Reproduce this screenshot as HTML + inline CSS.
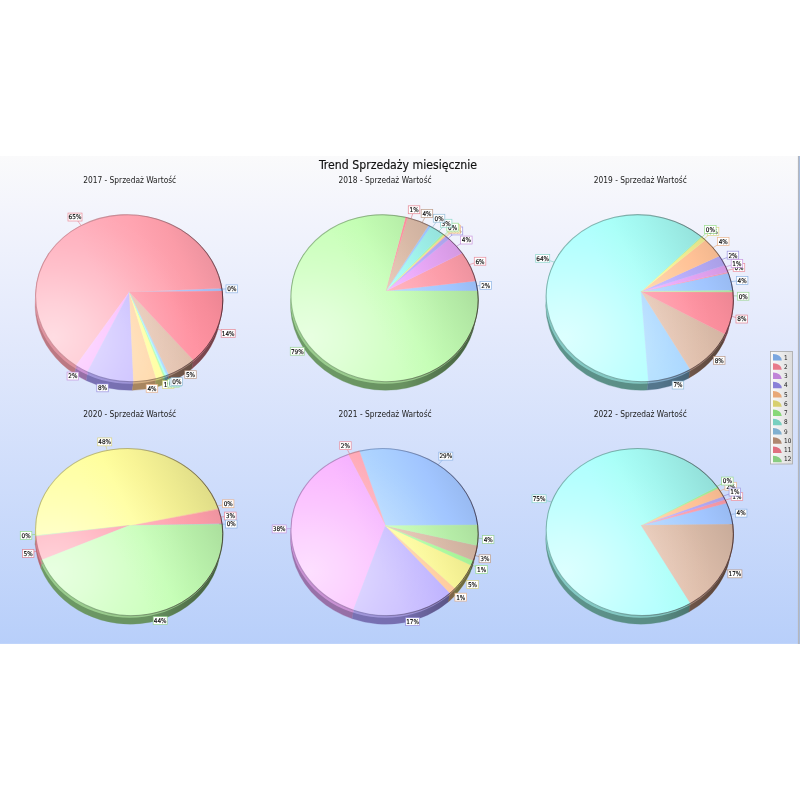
<!DOCTYPE html>
<html lang="pl"><head><meta charset="utf-8"><title>Trend Sprzedaży miesięcznie</title>
<style>
html,body{margin:0;padding:0;background:#fff;width:800px;height:800px;overflow:hidden}
svg{position:absolute;left:0;top:0;display:block}
text{font-family:"DejaVu Sans Condensed","Liberation Sans",sans-serif;fill:#1a1a1a}
.t{font-size:12.2px;fill:#111;stroke:#111;stroke-width:0.15px}
.s{font-size:8.3px;fill:#222}
.l{font-size:6.4px;fill:#000;stroke:#000;stroke-width:0.12px}
.g{font-size:6.4px;fill:#222}
</style></head><body>
<svg width="800" height="800" viewBox="0 0 800 800">
<defs>
<linearGradient id="bg" x1="0" y1="0" x2="0" y2="1"><stop offset="0" stop-color="#fafafb"/><stop offset="0.1" stop-color="#f4f5fc"/><stop offset="0.35" stop-color="#e4eafc"/><stop offset="1" stop-color="#b8cffa"/></linearGradient>
<radialGradient id="sh" cx="0.12" cy="0.78" r="0.8"><stop offset="0" stop-color="#fff" stop-opacity="0.58"/><stop offset="0.25" stop-color="#fff" stop-opacity="0.43"/><stop offset="0.5" stop-color="#fff" stop-opacity="0.24"/><stop offset="0.7" stop-color="#fff" stop-opacity="0.11"/><stop offset="0.9" stop-color="#fff" stop-opacity="0.02"/><stop offset="1" stop-color="#fff" stop-opacity="0"/></radialGradient>
<linearGradient id="rim" x1="0" y1="0.5" x2="1" y2="0.5"><stop offset="0" stop-color="#301820" stop-opacity="0.0"/><stop offset="0.5" stop-color="#301820" stop-opacity="0.1"/><stop offset="0.8" stop-color="#301820" stop-opacity="0.42"/><stop offset="1" stop-color="#301820" stop-opacity="0.66"/></linearGradient>
<linearGradient id="wallsh" x1="0" y1="0" x2="1" y2="0"><stop offset="0" stop-color="#000" stop-opacity="0"/><stop offset="0.6" stop-color="#000" stop-opacity="0.05"/><stop offset="1" stop-color="#000" stop-opacity="0.42"/></linearGradient>
<linearGradient id="bev" x1="0" y1="0" x2="1" y2="0"><stop offset="0" stop-color="#fff" stop-opacity="0.4"/><stop offset="0.5" stop-color="#fff" stop-opacity="0.3"/><stop offset="0.85" stop-color="#fff" stop-opacity="0.2"/><stop offset="1" stop-color="#fff" stop-opacity="0"/></linearGradient>
<linearGradient id="leg" x1="0" y1="0" x2="1" y2="0"><stop offset="0" stop-color="#fafafa"/><stop offset="1" stop-color="#dcdcdc"/></linearGradient>
</defs>
<rect x="0" y="156" width="800" height="487.9" fill="url(#bg)"/>
<rect x="797.9" y="156" width="1.1" height="488" fill="#b6b7ba"/>
<rect x="798.9" y="156" width="1.1" height="488" fill="#a8bcdc"/>

<text class="t" x="398" y="169.2" text-anchor="middle">Trend Sprzedaży miesięcznie</text>
<g>
<text class="s" x="129.7" y="183.3" text-anchor="middle">2017 - Sprzedaż Wartość</text>
<defs><linearGradient id="g0_1" gradientUnits="userSpaceOnUse" x1="47.52" y1="339.82" x2="210.88" y2="256.58"><stop offset="0" stop-color="#b4dcff"/><stop offset="0.4" stop-color="#b4dcff"/><stop offset="0.55" stop-color="#b0d6ff"/><stop offset="0.7" stop-color="#a9cfff"/><stop offset="0.85" stop-color="#a1c5ff"/><stop offset="1" stop-color="#98baf1"/></linearGradient><linearGradient id="g0_2" gradientUnits="userSpaceOnUse" x1="47.52" y1="339.82" x2="210.88" y2="256.58"><stop offset="0" stop-color="#ffaebc"/><stop offset="0.4" stop-color="#ffaebc"/><stop offset="0.55" stop-color="#ffaab7"/><stop offset="0.7" stop-color="#ffa4b1"/><stop offset="0.85" stop-color="#fb9ca8"/><stop offset="1" stop-color="#ed939f"/></linearGradient><linearGradient id="g0_3" gradientUnits="userSpaceOnUse" x1="47.52" y1="339.82" x2="210.88" y2="256.58"><stop offset="0" stop-color="#fab4ff"/><stop offset="0.4" stop-color="#fab4ff"/><stop offset="0.55" stop-color="#f4b0ff"/><stop offset="0.7" stop-color="#eba9fa"/><stop offset="0.85" stop-color="#e0a1ee"/><stop offset="1" stop-color="#d398e1"/></linearGradient><linearGradient id="g0_4" gradientUnits="userSpaceOnUse" x1="47.52" y1="339.82" x2="210.88" y2="256.58"><stop offset="0" stop-color="#c8bcff"/><stop offset="0.4" stop-color="#c8bcff"/><stop offset="0.55" stop-color="#c3b7ff"/><stop offset="0.7" stop-color="#bcb1ff"/><stop offset="0.85" stop-color="#b3a8f3"/><stop offset="1" stop-color="#a99fe6"/></linearGradient><linearGradient id="g0_5" gradientUnits="userSpaceOnUse" x1="47.52" y1="339.82" x2="210.88" y2="256.58"><stop offset="0" stop-color="#ffd8a8"/><stop offset="0.4" stop-color="#ffd8a8"/><stop offset="0.55" stop-color="#ffd3a4"/><stop offset="0.7" stop-color="#ffcb9e"/><stop offset="0.85" stop-color="#ffc196"/><stop offset="1" stop-color="#f1b78e"/></linearGradient><linearGradient id="g0_6" gradientUnits="userSpaceOnUse" x1="47.52" y1="339.82" x2="210.88" y2="256.58"><stop offset="0" stop-color="#ffffa0"/><stop offset="0.4" stop-color="#ffffa0"/><stop offset="0.55" stop-color="#fffe9c"/><stop offset="0.7" stop-color="#f8f496"/><stop offset="0.85" stop-color="#ece98f"/><stop offset="1" stop-color="#dfdc87"/></linearGradient><linearGradient id="g0_7" gradientUnits="userSpaceOnUse" x1="47.52" y1="339.82" x2="210.88" y2="256.58"><stop offset="0" stop-color="#b8ffa8"/><stop offset="0.4" stop-color="#b8ffa8"/><stop offset="0.55" stop-color="#b3ffa4"/><stop offset="0.7" stop-color="#adfc9e"/><stop offset="0.85" stop-color="#a5f096"/><stop offset="1" stop-color="#9be28e"/></linearGradient><linearGradient id="g0_8" gradientUnits="userSpaceOnUse" x1="47.52" y1="339.82" x2="210.88" y2="256.58"><stop offset="0" stop-color="#acfffe"/><stop offset="0.4" stop-color="#acfffe"/><stop offset="0.55" stop-color="#a8fff8"/><stop offset="0.7" stop-color="#a2f6ef"/><stop offset="0.85" stop-color="#9aeae3"/><stop offset="1" stop-color="#91ddd7"/></linearGradient><linearGradient id="g0_9" gradientUnits="userSpaceOnUse" x1="47.52" y1="339.82" x2="210.88" y2="256.58"><stop offset="0" stop-color="#acdcff"/><stop offset="0.4" stop-color="#acdcff"/><stop offset="0.55" stop-color="#a8d6ff"/><stop offset="0.7" stop-color="#a2cfff"/><stop offset="0.85" stop-color="#9ac5ff"/><stop offset="1" stop-color="#91baf1"/></linearGradient><linearGradient id="g0_10" gradientUnits="userSpaceOnUse" x1="47.52" y1="339.82" x2="210.88" y2="256.58"><stop offset="0" stop-color="#eac8b4"/><stop offset="0.4" stop-color="#eac8b4"/><stop offset="0.55" stop-color="#e4c3b0"/><stop offset="0.7" stop-color="#dcbca9"/><stop offset="0.85" stop-color="#d1b3a1"/><stop offset="1" stop-color="#c6a998"/></linearGradient><linearGradient id="g0_11" gradientUnits="userSpaceOnUse" x1="47.52" y1="339.82" x2="210.88" y2="256.58"><stop offset="0" stop-color="#ff9cac"/><stop offset="0.4" stop-color="#ff9cac"/><stop offset="0.55" stop-color="#ff98a8"/><stop offset="0.7" stop-color="#ff93a2"/><stop offset="0.85" stop-color="#f78c9a"/><stop offset="1" stop-color="#e98491"/></linearGradient></defs>
<line x1="81.1" y1="225.5" x2="75.0" y2="217.1" stroke="#e87a8a" stroke-width="0.7" stroke-opacity="0.85"/>
<line x1="222.0" y1="289.1" x2="231.8" y2="288.8" stroke="#7ba7e0" stroke-width="0.7" stroke-opacity="0.85"/>
<line x1="217.1" y1="328.7" x2="228.2" y2="333.4" stroke="#e07080" stroke-width="0.7" stroke-opacity="0.85"/>
<line x1="184.6" y1="366.7" x2="190.5" y2="374.6" stroke="#b08870" stroke-width="0.7" stroke-opacity="0.85"/>
<line x1="164.7" y1="376.2" x2="168.2" y2="384.7" stroke="#d8d070" stroke-width="0.7" stroke-opacity="0.85"/>
<line x1="169.3" y1="374.5" x2="173.5" y2="383.2" stroke="#88d878" stroke-width="0.7" stroke-opacity="0.85"/>
<line x1="171.1" y1="373.8" x2="175.5" y2="382.4" stroke="#78d0c0" stroke-width="0.7" stroke-opacity="0.85"/>
<line x1="172.3" y1="373.2" x2="176.8" y2="381.7" stroke="#80b0d0" stroke-width="0.7" stroke-opacity="0.85"/>
<line x1="150.0" y1="380.0" x2="152.0" y2="388.4" stroke="#e8a878" stroke-width="0.7" stroke-opacity="0.85"/>
<line x1="105.2" y1="378.4" x2="102.5" y2="387.8" stroke="#8a80d8" stroke-width="0.7" stroke-opacity="0.85"/>
<line x1="78.6" y1="367.4" x2="72.8" y2="376.0" stroke="#c084d8" stroke-width="0.7" stroke-opacity="0.85"/>
<path d="M222.23 291.04 A93.7 83.4 6 0 0 221.84 288.34 L219.96 297.36 A93 83 6 0 1 220.34 300.05 Z" fill="#6c8cc0" stroke="#6c8cc0" stroke-width="0.3"/>
<path d="M221.84 288.34 A93.7 83.4 6 0 0 220.8 283.05 L218.92 292.09 A93 83 6 0 1 219.96 297.36 Z" fill="#bd7a84" stroke="#bd7a84" stroke-width="0.3"/>
<path d="M49.08 253.3 A93.7 83.4 6 0 0 75.89 365.67 L75.07 374.36 A93 83 6 0 1 48.49 262.54 Z" fill="#bd7a84" stroke="#bd7a84" stroke-width="0.3"/>
<path d="M75.89 365.67 A93.7 83.4 6 0 0 87.46 372.03 L86.55 380.69 A93 83 6 0 1 75.07 374.36 Z" fill="#9a72aa" stroke="#9a72aa" stroke-width="0.3"/>
<path d="M87.46 372.03 A93.7 83.4 6 0 0 133.52 381.7 L132.27 390.3 A93 83 6 0 1 86.55 380.69 Z" fill="#7c74b8" stroke="#7c74b8" stroke-width="0.3"/>
<path d="M133.52 381.7 A93.7 83.4 6 0 0 156.24 378.72 L154.82 387.32 A93 83 6 0 1 132.27 390.3 Z" fill="#b08c64" stroke="#b08c64" stroke-width="0.3"/>
<path d="M156.24 378.72 A93.7 83.4 6 0 0 163.71 376.56 L162.23 385.17 A93 83 6 0 1 154.82 387.32 Z" fill="#a8a460" stroke="#a8a460" stroke-width="0.3"/>
<path d="M163.71 376.56 A93.7 83.4 6 0 0 165.22 376.04 L163.73 384.66 A93 83 6 0 1 162.23 385.17 Z" fill="#70a868" stroke="#70a868" stroke-width="0.3"/>
<path d="M165.22 376.04 A93.7 83.4 6 0 0 167.05 375.38 L165.55 384 A93 83 6 0 1 163.73 384.66 Z" fill="#5e948c" stroke="#5e948c" stroke-width="0.3"/>
<path d="M167.05 375.38 A93.7 83.4 6 0 0 168.96 374.65 L167.45 383.27 A93 83 6 0 1 165.55 384 Z" fill="#587c94" stroke="#587c94" stroke-width="0.3"/>
<path d="M168.96 374.65 A93.7 83.4 6 0 0 193.45 360.3 L191.76 368.99 A93 83 6 0 1 167.45 383.27 Z" fill="#8c6c5c" stroke="#8c6c5c" stroke-width="0.3"/>
<path d="M193.45 360.3 A93.7 83.4 6 0 0 222.23 291.04 L220.34 300.05 A93 83 6 0 1 191.76 368.99 Z" fill="#b46874" stroke="#b46874" stroke-width="0.3"/>
<path d="M49.08 253.3 A93.7 83.4 6 1 0 220.8 283.05 L218.92 292.09 A93 83 6 1 1 48.49 262.54 Z" fill="url(#wallsh)"/>
<clipPath id="bc0"><polygon points="41.1,268.2 38.9,274.3 37.3,280.5 36.2,286.8 35.7,293.2 35.7,299.6 36.3,306.0 37.4,312.4 39.1,318.7 41.3,324.9 44.0,330.9 47.2,336.7 50.9,342.3 55.1,347.6 59.7,352.6 64.7,357.3 70.1,361.7 75.9,365.7 81.9,369.2 88.3,372.4 94.9,375.1 101.7,377.4 108.6,379.2 115.7,380.5 122.9,381.4 130.1,381.7 137.3,381.6 144.4,380.9 151.5,379.8 158.4,378.2 165.1,376.1 171.7,373.5 178.0,370.5 183.9,367.1 189.6,363.3 194.9,359.1 199.9,354.5 204.4,349.6 208.4,344.4 212.0,338.9 215.1,333.1 215.0,334.4 211.9,340.2 208.3,345.7 204.2,350.9 199.7,355.9 194.7,360.5 189.4,364.8 183.7,368.6 177.7,372.1 171.4,375.2 164.9,377.8 158.1,379.9 151.2,381.6 144.1,382.8 137.0,383.6 129.8,383.8 122.6,383.5 115.4,382.8 108.3,381.6 101.4,379.9 94.5,377.7 87.9,375.1 81.6,372.0 75.5,368.5 69.7,364.7 64.3,360.4 59.3,355.8 54.6,350.9 50.5,345.7 46.7,340.2 43.5,334.5 40.7,328.7 38.5,322.6 36.8,316.5 35.7,310.3 35.1,304.0 35.1,297.7 35.6,291.4 36.7,285.1 38.3,278.9 40.5,272.8"/></clipPath>
<g clip-path="url(#bc0)"><g transform="translate(-0.7,5.2)" opacity="0.5">
<path d="M129.4 291.9 L222.23 291.04 A93.7 83.4 6 0 0 221.84 288.34 Z" fill="url(#g0_1)" stroke="url(#g0_1)" stroke-width="0.35"/>
<path d="M129.4 291.9 L221.84 288.34 A93.7 83.4 6 1 0 75.89 365.67 Z" fill="url(#g0_2)" stroke="url(#g0_2)" stroke-width="0.35"/>
<path d="M129.4 291.9 L75.89 365.67 A93.7 83.4 6 0 0 87.46 372.03 Z" fill="url(#g0_3)" stroke="url(#g0_3)" stroke-width="0.35"/>
<path d="M129.4 291.9 L87.46 372.03 A93.7 83.4 6 0 0 133.52 381.7 Z" fill="url(#g0_4)" stroke="url(#g0_4)" stroke-width="0.35"/>
<path d="M129.4 291.9 L133.52 381.7 A93.7 83.4 6 0 0 156.24 378.72 Z" fill="url(#g0_5)" stroke="url(#g0_5)" stroke-width="0.35"/>
<path d="M129.4 291.9 L156.24 378.72 A93.7 83.4 6 0 0 163.71 376.56 Z" fill="url(#g0_6)" stroke="url(#g0_6)" stroke-width="0.35"/>
<path d="M129.4 291.9 L163.71 376.56 A93.7 83.4 6 0 0 165.22 376.04 Z" fill="url(#g0_7)" stroke="url(#g0_7)" stroke-width="0.35"/>
<path d="M129.4 291.9 L165.22 376.04 A93.7 83.4 6 0 0 167.05 375.38 Z" fill="url(#g0_8)" stroke="url(#g0_8)" stroke-width="0.35"/>
<path d="M129.4 291.9 L167.05 375.38 A93.7 83.4 6 0 0 168.96 374.65 Z" fill="url(#g0_9)" stroke="url(#g0_9)" stroke-width="0.35"/>
<path d="M129.4 291.9 L168.96 374.65 A93.7 83.4 6 0 0 193.45 360.3 Z" fill="url(#g0_10)" stroke="url(#g0_10)" stroke-width="0.35"/>
<path d="M129.4 291.9 L193.45 360.3 A93.7 83.4 6 0 0 222.23 291.04 Z" fill="url(#g0_11)" stroke="url(#g0_11)" stroke-width="0.35"/>
</g></g>
<path d="M129.4 291.9 L222.23 291.04 A93.7 83.4 6 0 0 221.84 288.34 Z" fill="url(#g0_1)" stroke="url(#g0_1)" stroke-width="0.35"/>
<path d="M129.4 291.9 L221.84 288.34 A93.7 83.4 6 1 0 75.89 365.67 Z" fill="url(#g0_2)" stroke="url(#g0_2)" stroke-width="0.35"/>
<path d="M129.4 291.9 L75.89 365.67 A93.7 83.4 6 0 0 87.46 372.03 Z" fill="url(#g0_3)" stroke="url(#g0_3)" stroke-width="0.35"/>
<path d="M129.4 291.9 L87.46 372.03 A93.7 83.4 6 0 0 133.52 381.7 Z" fill="url(#g0_4)" stroke="url(#g0_4)" stroke-width="0.35"/>
<path d="M129.4 291.9 L133.52 381.7 A93.7 83.4 6 0 0 156.24 378.72 Z" fill="url(#g0_5)" stroke="url(#g0_5)" stroke-width="0.35"/>
<path d="M129.4 291.9 L156.24 378.72 A93.7 83.4 6 0 0 163.71 376.56 Z" fill="url(#g0_6)" stroke="url(#g0_6)" stroke-width="0.35"/>
<path d="M129.4 291.9 L163.71 376.56 A93.7 83.4 6 0 0 165.22 376.04 Z" fill="url(#g0_7)" stroke="url(#g0_7)" stroke-width="0.35"/>
<path d="M129.4 291.9 L165.22 376.04 A93.7 83.4 6 0 0 167.05 375.38 Z" fill="url(#g0_8)" stroke="url(#g0_8)" stroke-width="0.35"/>
<path d="M129.4 291.9 L167.05 375.38 A93.7 83.4 6 0 0 168.96 374.65 Z" fill="url(#g0_9)" stroke="url(#g0_9)" stroke-width="0.35"/>
<path d="M129.4 291.9 L168.96 374.65 A93.7 83.4 6 0 0 193.45 360.3 Z" fill="url(#g0_10)" stroke="url(#g0_10)" stroke-width="0.35"/>
<path d="M129.4 291.9 L193.45 360.3 A93.7 83.4 6 0 0 222.23 291.04 Z" fill="url(#g0_11)" stroke="url(#g0_11)" stroke-width="0.35"/>
<ellipse cx="129.2" cy="298.2" rx="93.7" ry="83.4" fill="url(#sh)" transform="rotate(6 129.2 298.2)"/>
<path d="M222.23 291.04 A93.7 83.4 6 0 0 221.84 288.34" fill="none" stroke="#6c8cc0" stroke-width="1.05" stroke-opacity="0.62"/>
<path d="M221.84 288.34 A93.7 83.4 6 1 0 75.89 365.67" fill="none" stroke="#bd7a84" stroke-width="1.05" stroke-opacity="0.62"/>
<path d="M75.89 365.67 A93.7 83.4 6 0 0 87.46 372.03" fill="none" stroke="#9a72aa" stroke-width="1.05" stroke-opacity="0.62"/>
<path d="M87.46 372.03 A93.7 83.4 6 0 0 133.52 381.7" fill="none" stroke="#7c74b8" stroke-width="1.05" stroke-opacity="0.62"/>
<path d="M133.52 381.7 A93.7 83.4 6 0 0 156.24 378.72" fill="none" stroke="#b08c64" stroke-width="1.05" stroke-opacity="0.62"/>
<path d="M156.24 378.72 A93.7 83.4 6 0 0 163.71 376.56" fill="none" stroke="#a8a460" stroke-width="1.05" stroke-opacity="0.62"/>
<path d="M163.71 376.56 A93.7 83.4 6 0 0 165.22 376.04" fill="none" stroke="#70a868" stroke-width="1.05" stroke-opacity="0.62"/>
<path d="M165.22 376.04 A93.7 83.4 6 0 0 167.05 375.38" fill="none" stroke="#5e948c" stroke-width="1.05" stroke-opacity="0.62"/>
<path d="M167.05 375.38 A93.7 83.4 6 0 0 168.96 374.65" fill="none" stroke="#587c94" stroke-width="1.05" stroke-opacity="0.62"/>
<path d="M168.96 374.65 A93.7 83.4 6 0 0 193.45 360.3" fill="none" stroke="#8c6c5c" stroke-width="1.05" stroke-opacity="0.62"/>
<path d="M193.45 360.3 A93.7 83.4 6 0 0 222.23 291.04" fill="none" stroke="#b46874" stroke-width="1.05" stroke-opacity="0.62"/>
<ellipse cx="129.2" cy="298.2" rx="93.7" ry="83.4" fill="none" stroke="url(#rim)" stroke-width="0.95" transform="rotate(6 129.2 298.2)"/>
<rect x="68.0" y="213.1" width="14.0" height="7.9" fill="#fff" stroke="#e87a8a" stroke-width="0.75" stroke-opacity="0.8"/>
<text class="l" x="75.0" y="219.4" text-anchor="middle">65%</text>
<rect x="226.0" y="284.9" width="11.5" height="7.9" fill="#fff" stroke="#7ba7e0" stroke-width="0.75" stroke-opacity="0.8"/>
<text class="l" x="231.8" y="291.1" text-anchor="middle">0%</text>
<rect x="221.2" y="329.4" width="14.0" height="7.9" fill="#fff" stroke="#e07080" stroke-width="0.75" stroke-opacity="0.8"/>
<text class="l" x="228.2" y="335.7" text-anchor="middle">14%</text>
<rect x="184.8" y="370.7" width="11.5" height="7.9" fill="#fff" stroke="#b08870" stroke-width="0.75" stroke-opacity="0.8"/>
<text class="l" x="190.5" y="376.9" text-anchor="middle">5%</text>
<rect x="162.4" y="380.7" width="11.5" height="7.9" fill="#fff" stroke="#d8d070" stroke-width="0.75" stroke-opacity="0.8"/>
<text class="l" x="168.2" y="387.0" text-anchor="middle">1%</text>
<rect x="167.7" y="379.2" width="11.5" height="7.9" fill="#fff" stroke="#88d878" stroke-width="0.75" stroke-opacity="0.8"/>
<text class="l" x="173.5" y="385.5" text-anchor="middle">0%</text>
<rect x="169.7" y="378.4" width="11.5" height="7.9" fill="#fff" stroke="#78d0c0" stroke-width="0.75" stroke-opacity="0.8"/>
<text class="l" x="175.5" y="384.7" text-anchor="middle">0%</text>
<rect x="171.0" y="377.7" width="11.5" height="7.9" fill="#fff" stroke="#80b0d0" stroke-width="0.75" stroke-opacity="0.8"/>
<text class="l" x="176.8" y="384.0" text-anchor="middle">0%</text>
<rect x="146.2" y="384.4" width="11.5" height="7.9" fill="#fff" stroke="#e8a878" stroke-width="0.75" stroke-opacity="0.8"/>
<text class="l" x="152.0" y="390.7" text-anchor="middle">4%</text>
<rect x="96.8" y="383.9" width="11.5" height="7.9" fill="#fff" stroke="#8a80d8" stroke-width="0.75" stroke-opacity="0.8"/>
<text class="l" x="102.5" y="390.1" text-anchor="middle">8%</text>
<rect x="67.1" y="372.1" width="11.5" height="7.9" fill="#fff" stroke="#c084d8" stroke-width="0.75" stroke-opacity="0.8"/>
<text class="l" x="72.8" y="378.3" text-anchor="middle">2%</text>
</g>
<g>
<text class="s" x="385.1" y="183.3" text-anchor="middle">2018 - Sprzedaż Wartość</text>
<defs><linearGradient id="g1_1" gradientUnits="userSpaceOnUse" x1="302.92" y1="339.82" x2="466.28" y2="256.58"><stop offset="0" stop-color="#b4dcff"/><stop offset="0.4" stop-color="#b4dcff"/><stop offset="0.55" stop-color="#b0d6ff"/><stop offset="0.7" stop-color="#a9cfff"/><stop offset="0.85" stop-color="#a1c5ff"/><stop offset="1" stop-color="#98baf1"/></linearGradient><linearGradient id="g1_2" gradientUnits="userSpaceOnUse" x1="302.92" y1="339.82" x2="466.28" y2="256.58"><stop offset="0" stop-color="#ffaebc"/><stop offset="0.4" stop-color="#ffaebc"/><stop offset="0.55" stop-color="#ffaab7"/><stop offset="0.7" stop-color="#ffa4b1"/><stop offset="0.85" stop-color="#fb9ca8"/><stop offset="1" stop-color="#ed939f"/></linearGradient><linearGradient id="g1_3" gradientUnits="userSpaceOnUse" x1="302.92" y1="339.82" x2="466.28" y2="256.58"><stop offset="0" stop-color="#fab4ff"/><stop offset="0.4" stop-color="#fab4ff"/><stop offset="0.55" stop-color="#f4b0ff"/><stop offset="0.7" stop-color="#eba9fa"/><stop offset="0.85" stop-color="#e0a1ee"/><stop offset="1" stop-color="#d398e1"/></linearGradient><linearGradient id="g1_4" gradientUnits="userSpaceOnUse" x1="302.92" y1="339.82" x2="466.28" y2="256.58"><stop offset="0" stop-color="#c8bcff"/><stop offset="0.4" stop-color="#c8bcff"/><stop offset="0.55" stop-color="#c3b7ff"/><stop offset="0.7" stop-color="#bcb1ff"/><stop offset="0.85" stop-color="#b3a8f3"/><stop offset="1" stop-color="#a99fe6"/></linearGradient><linearGradient id="g1_5" gradientUnits="userSpaceOnUse" x1="302.92" y1="339.82" x2="466.28" y2="256.58"><stop offset="0" stop-color="#ffd8a8"/><stop offset="0.4" stop-color="#ffd8a8"/><stop offset="0.55" stop-color="#ffd3a4"/><stop offset="0.7" stop-color="#ffcb9e"/><stop offset="0.85" stop-color="#ffc196"/><stop offset="1" stop-color="#f1b78e"/></linearGradient><linearGradient id="g1_6" gradientUnits="userSpaceOnUse" x1="302.92" y1="339.82" x2="466.28" y2="256.58"><stop offset="0" stop-color="#ffffa0"/><stop offset="0.4" stop-color="#ffffa0"/><stop offset="0.55" stop-color="#fffe9c"/><stop offset="0.7" stop-color="#f8f496"/><stop offset="0.85" stop-color="#ece98f"/><stop offset="1" stop-color="#dfdc87"/></linearGradient><linearGradient id="g1_7" gradientUnits="userSpaceOnUse" x1="302.92" y1="339.82" x2="466.28" y2="256.58"><stop offset="0" stop-color="#b8ffa8"/><stop offset="0.4" stop-color="#b8ffa8"/><stop offset="0.55" stop-color="#b3ffa4"/><stop offset="0.7" stop-color="#adfc9e"/><stop offset="0.85" stop-color="#a5f096"/><stop offset="1" stop-color="#9be28e"/></linearGradient><linearGradient id="g1_8" gradientUnits="userSpaceOnUse" x1="302.92" y1="339.82" x2="466.28" y2="256.58"><stop offset="0" stop-color="#acfffe"/><stop offset="0.4" stop-color="#acfffe"/><stop offset="0.55" stop-color="#a8fff8"/><stop offset="0.7" stop-color="#a2f6ef"/><stop offset="0.85" stop-color="#9aeae3"/><stop offset="1" stop-color="#91ddd7"/></linearGradient><linearGradient id="g1_9" gradientUnits="userSpaceOnUse" x1="302.92" y1="339.82" x2="466.28" y2="256.58"><stop offset="0" stop-color="#acdcff"/><stop offset="0.4" stop-color="#acdcff"/><stop offset="0.55" stop-color="#a8d6ff"/><stop offset="0.7" stop-color="#a2cfff"/><stop offset="0.85" stop-color="#9ac5ff"/><stop offset="1" stop-color="#91baf1"/></linearGradient><linearGradient id="g1_10" gradientUnits="userSpaceOnUse" x1="302.92" y1="339.82" x2="466.28" y2="256.58"><stop offset="0" stop-color="#eac8b4"/><stop offset="0.4" stop-color="#eac8b4"/><stop offset="0.55" stop-color="#e4c3b0"/><stop offset="0.7" stop-color="#dcbca9"/><stop offset="0.85" stop-color="#d1b3a1"/><stop offset="1" stop-color="#c6a998"/></linearGradient><linearGradient id="g1_11" gradientUnits="userSpaceOnUse" x1="302.92" y1="339.82" x2="466.28" y2="256.58"><stop offset="0" stop-color="#ff9cac"/><stop offset="0.4" stop-color="#ff9cac"/><stop offset="0.55" stop-color="#ff98a8"/><stop offset="0.7" stop-color="#ff93a2"/><stop offset="0.85" stop-color="#f78c9a"/><stop offset="1" stop-color="#e98491"/></linearGradient><linearGradient id="g1_12" gradientUnits="userSpaceOnUse" x1="302.92" y1="339.82" x2="466.28" y2="256.58"><stop offset="0" stop-color="#c8ffb8"/><stop offset="0.4" stop-color="#c8ffb8"/><stop offset="0.55" stop-color="#c3feb3"/><stop offset="0.7" stop-color="#bcf4ad"/><stop offset="0.85" stop-color="#b3e9a5"/><stop offset="1" stop-color="#a9dc9b"/></linearGradient></defs>
<line x1="476.8" y1="285.8" x2="485.7" y2="285.3" stroke="#7ba7e0" stroke-width="0.7" stroke-opacity="0.85"/>
<line x1="469.4" y1="264.6" x2="480.0" y2="261.3" stroke="#e87a8a" stroke-width="0.7" stroke-opacity="0.85"/>
<line x1="456.5" y1="246.3" x2="466.4" y2="240.0" stroke="#c084d8" stroke-width="0.7" stroke-opacity="0.85"/>
<line x1="448.2" y1="238.3" x2="456.9" y2="231.0" stroke="#8a80d8" stroke-width="0.7" stroke-opacity="0.85"/>
<line x1="446.4" y1="236.8" x2="454.8" y2="229.3" stroke="#e8a878" stroke-width="0.7" stroke-opacity="0.85"/>
<line x1="445.4" y1="236.0" x2="453.8" y2="228.3" stroke="#d8d070" stroke-width="0.7" stroke-opacity="0.85"/>
<line x1="444.3" y1="235.2" x2="452.6" y2="227.2" stroke="#88d878" stroke-width="0.7" stroke-opacity="0.85"/>
<line x1="438.9" y1="231.3" x2="446.1" y2="223.2" stroke="#78d0c0" stroke-width="0.7" stroke-opacity="0.85"/>
<line x1="432.3" y1="227.4" x2="439.1" y2="218.2" stroke="#80b0d0" stroke-width="0.7" stroke-opacity="0.85"/>
<line x1="422.2" y1="222.5" x2="427.0" y2="213.5" stroke="#b08870" stroke-width="0.7" stroke-opacity="0.85"/>
<line x1="411.0" y1="218.7" x2="414.1" y2="209.7" stroke="#e07080" stroke-width="0.7" stroke-opacity="0.85"/>
<line x1="307.7" y1="344.2" x2="297.3" y2="351.2" stroke="#88cc80" stroke-width="0.7" stroke-opacity="0.85"/>
<path d="M477.61 290.89 A93.7 83.4 6 0 0 476.2 283.05 L474.32 292.09 A93 83 6 0 1 475.72 299.9 Z" fill="#6c8cc0" stroke="#6c8cc0" stroke-width="0.3"/>
<path d="M304.48 253.3 A93.7 83.4 6 1 0 477.61 290.89 L475.72 299.9 A93 83 6 1 1 303.89 262.54 Z" fill="#6e9a66" stroke="#6e9a66" stroke-width="0.3"/>
<path d="M304.48 253.3 A93.7 83.4 6 1 0 476.2 283.05 L474.32 292.09 A93 83 6 1 1 303.89 262.54 Z" fill="url(#wallsh)"/>
<clipPath id="bc1"><polygon points="296.5,268.2 294.3,274.3 292.7,280.5 291.6,286.8 291.1,293.2 291.1,299.6 291.7,306.0 292.8,312.4 294.5,318.7 296.7,324.9 299.4,330.9 302.6,336.7 306.3,342.3 310.5,347.6 315.1,352.6 320.1,357.3 325.5,361.7 331.3,365.7 337.3,369.2 343.7,372.4 350.3,375.1 357.1,377.4 364.0,379.2 371.1,380.5 378.3,381.4 385.5,381.7 392.7,381.6 399.8,380.9 406.9,379.8 413.8,378.2 420.5,376.1 427.1,373.5 433.4,370.5 439.3,367.1 445.0,363.3 450.3,359.1 455.3,354.5 459.8,349.6 463.8,344.4 467.4,338.9 470.5,333.1 470.4,334.4 467.3,340.2 463.7,345.7 459.6,350.9 455.1,355.9 450.1,360.5 444.8,364.8 439.1,368.6 433.1,372.1 426.8,375.2 420.3,377.8 413.5,379.9 406.6,381.6 399.5,382.8 392.4,383.6 385.2,383.8 378.0,383.5 370.8,382.8 363.7,381.6 356.8,379.9 349.9,377.7 343.3,375.1 337.0,372.0 330.9,368.5 325.1,364.7 319.7,360.4 314.7,355.8 310.0,350.9 305.9,345.7 302.1,340.2 298.9,334.5 296.1,328.7 293.9,322.6 292.2,316.5 291.1,310.3 290.5,304.0 290.5,297.7 291.0,291.4 292.1,285.1 293.7,278.9 295.9,272.8"/></clipPath>
<g clip-path="url(#bc1)"><g transform="translate(-0.7,5.2)" opacity="0.5">
<path d="M385.75 291 L477.61 290.89 A93.7 83.4 6 0 0 475.66 280.89 Z" fill="url(#g1_1)" stroke="url(#g1_1)" stroke-width="0.35"/>
<path d="M385.75 291 L475.66 280.89 A93.7 83.4 6 0 0 462.12 253.1 Z" fill="url(#g1_2)" stroke="url(#g1_2)" stroke-width="0.35"/>
<path d="M385.75 291 L462.12 253.1 A93.7 83.4 6 0 0 449.04 239.05 Z" fill="url(#g1_3)" stroke="url(#g1_3)" stroke-width="0.35"/>
<path d="M385.75 291 L449.04 239.05 A93.7 83.4 6 0 0 445.52 236.13 Z" fill="url(#g1_4)" stroke="url(#g1_4)" stroke-width="0.35"/>
<path d="M385.75 291 L445.52 236.13 A93.7 83.4 6 0 0 444.55 235.38 Z" fill="url(#g1_5)" stroke="url(#g1_5)" stroke-width="0.35"/>
<path d="M385.75 291 L444.55 235.38 A93.7 83.4 6 0 0 443.68 234.72 Z" fill="url(#g1_6)" stroke="url(#g1_6)" stroke-width="0.35"/>
<path d="M385.75 291 L443.68 234.72 A93.7 83.4 6 0 0 442.58 233.91 Z" fill="url(#g1_7)" stroke="url(#g1_7)" stroke-width="0.35"/>
<path d="M385.75 291 L442.58 233.91 A93.7 83.4 6 0 0 430.72 226.54 Z" fill="url(#g1_8)" stroke="url(#g1_8)" stroke-width="0.35"/>
<path d="M385.75 291 L430.72 226.54 A93.7 83.4 6 0 0 428.53 225.43 Z" fill="url(#g1_9)" stroke="url(#g1_9)" stroke-width="0.35"/>
<path d="M385.75 291 L428.53 225.43 A93.7 83.4 6 0 0 407.64 217.77 Z" fill="url(#g1_10)" stroke="url(#g1_10)" stroke-width="0.35"/>
<path d="M385.75 291 L407.64 217.77 A93.7 83.4 6 0 0 405.39 217.24 Z" fill="url(#g1_11)" stroke="url(#g1_11)" stroke-width="0.35"/>
<path d="M385.75 291 L405.39 217.24 A93.7 83.4 6 1 0 477.61 290.89 Z" fill="url(#g1_12)" stroke="url(#g1_12)" stroke-width="0.35"/>
</g></g>
<path d="M385.75 291 L477.61 290.89 A93.7 83.4 6 0 0 475.66 280.89 Z" fill="url(#g1_1)" stroke="url(#g1_1)" stroke-width="0.35"/>
<path d="M385.75 291 L475.66 280.89 A93.7 83.4 6 0 0 462.12 253.1 Z" fill="url(#g1_2)" stroke="url(#g1_2)" stroke-width="0.35"/>
<path d="M385.75 291 L462.12 253.1 A93.7 83.4 6 0 0 449.04 239.05 Z" fill="url(#g1_3)" stroke="url(#g1_3)" stroke-width="0.35"/>
<path d="M385.75 291 L449.04 239.05 A93.7 83.4 6 0 0 445.52 236.13 Z" fill="url(#g1_4)" stroke="url(#g1_4)" stroke-width="0.35"/>
<path d="M385.75 291 L445.52 236.13 A93.7 83.4 6 0 0 444.55 235.38 Z" fill="url(#g1_5)" stroke="url(#g1_5)" stroke-width="0.35"/>
<path d="M385.75 291 L444.55 235.38 A93.7 83.4 6 0 0 443.68 234.72 Z" fill="url(#g1_6)" stroke="url(#g1_6)" stroke-width="0.35"/>
<path d="M385.75 291 L443.68 234.72 A93.7 83.4 6 0 0 442.58 233.91 Z" fill="url(#g1_7)" stroke="url(#g1_7)" stroke-width="0.35"/>
<path d="M385.75 291 L442.58 233.91 A93.7 83.4 6 0 0 430.72 226.54 Z" fill="url(#g1_8)" stroke="url(#g1_8)" stroke-width="0.35"/>
<path d="M385.75 291 L430.72 226.54 A93.7 83.4 6 0 0 428.53 225.43 Z" fill="url(#g1_9)" stroke="url(#g1_9)" stroke-width="0.35"/>
<path d="M385.75 291 L428.53 225.43 A93.7 83.4 6 0 0 407.64 217.77 Z" fill="url(#g1_10)" stroke="url(#g1_10)" stroke-width="0.35"/>
<path d="M385.75 291 L407.64 217.77 A93.7 83.4 6 0 0 405.39 217.24 Z" fill="url(#g1_11)" stroke="url(#g1_11)" stroke-width="0.35"/>
<path d="M385.75 291 L405.39 217.24 A93.7 83.4 6 1 0 477.61 290.89 Z" fill="url(#g1_12)" stroke="url(#g1_12)" stroke-width="0.35"/>
<ellipse cx="384.6" cy="298.2" rx="93.7" ry="83.4" fill="url(#sh)" transform="rotate(6 384.6 298.2)"/>
<path d="M477.61 290.89 A93.7 83.4 6 0 0 475.66 280.89" fill="none" stroke="#6c8cc0" stroke-width="1.05" stroke-opacity="0.62"/>
<path d="M475.66 280.89 A93.7 83.4 6 0 0 462.12 253.1" fill="none" stroke="#bd7a84" stroke-width="1.05" stroke-opacity="0.62"/>
<path d="M462.12 253.1 A93.7 83.4 6 0 0 449.04 239.05" fill="none" stroke="#9a72aa" stroke-width="1.05" stroke-opacity="0.62"/>
<path d="M449.04 239.05 A93.7 83.4 6 0 0 445.52 236.13" fill="none" stroke="#7c74b8" stroke-width="1.05" stroke-opacity="0.62"/>
<path d="M445.52 236.13 A93.7 83.4 6 0 0 444.55 235.38" fill="none" stroke="#b08c64" stroke-width="1.05" stroke-opacity="0.62"/>
<path d="M444.55 235.38 A93.7 83.4 6 0 0 443.68 234.72" fill="none" stroke="#a8a460" stroke-width="1.05" stroke-opacity="0.62"/>
<path d="M443.68 234.72 A93.7 83.4 6 0 0 442.58 233.91" fill="none" stroke="#70a868" stroke-width="1.05" stroke-opacity="0.62"/>
<path d="M442.58 233.91 A93.7 83.4 6 0 0 430.72 226.54" fill="none" stroke="#5e948c" stroke-width="1.05" stroke-opacity="0.62"/>
<path d="M430.72 226.54 A93.7 83.4 6 0 0 428.53 225.43" fill="none" stroke="#587c94" stroke-width="1.05" stroke-opacity="0.62"/>
<path d="M428.53 225.43 A93.7 83.4 6 0 0 407.64 217.77" fill="none" stroke="#8c6c5c" stroke-width="1.05" stroke-opacity="0.62"/>
<path d="M407.64 217.77 A93.7 83.4 6 0 0 405.39 217.24" fill="none" stroke="#b46874" stroke-width="1.05" stroke-opacity="0.62"/>
<path d="M405.39 217.24 A93.7 83.4 6 1 0 477.61 290.89" fill="none" stroke="#6e9a66" stroke-width="1.05" stroke-opacity="0.62"/>
<ellipse cx="384.6" cy="298.2" rx="93.7" ry="83.4" fill="none" stroke="url(#rim)" stroke-width="0.95" transform="rotate(6 384.6 298.2)"/>
<rect x="480.0" y="281.4" width="11.5" height="7.9" fill="#fff" stroke="#7ba7e0" stroke-width="0.75" stroke-opacity="0.8"/>
<text class="l" x="485.7" y="287.6" text-anchor="middle">2%</text>
<rect x="474.3" y="257.3" width="11.5" height="7.9" fill="#fff" stroke="#e87a8a" stroke-width="0.75" stroke-opacity="0.8"/>
<text class="l" x="480.0" y="263.6" text-anchor="middle">6%</text>
<rect x="460.6" y="236.1" width="11.5" height="7.9" fill="#fff" stroke="#c084d8" stroke-width="0.75" stroke-opacity="0.8"/>
<text class="l" x="466.4" y="242.3" text-anchor="middle">4%</text>
<rect x="451.2" y="227.0" width="11.5" height="7.9" fill="#fff" stroke="#8a80d8" stroke-width="0.75" stroke-opacity="0.8"/>
<text class="l" x="456.9" y="233.3" text-anchor="middle">0%</text>
<rect x="449.0" y="225.3" width="11.5" height="7.9" fill="#fff" stroke="#e8a878" stroke-width="0.75" stroke-opacity="0.8"/>
<text class="l" x="454.8" y="231.6" text-anchor="middle">0%</text>
<rect x="448.1" y="224.3" width="11.5" height="7.9" fill="#fff" stroke="#d8d070" stroke-width="0.75" stroke-opacity="0.8"/>
<text class="l" x="453.8" y="230.6" text-anchor="middle">0%</text>
<rect x="446.8" y="223.2" width="11.5" height="7.9" fill="#fff" stroke="#88d878" stroke-width="0.75" stroke-opacity="0.8"/>
<text class="l" x="452.6" y="229.5" text-anchor="middle">0%</text>
<rect x="440.4" y="219.3" width="11.5" height="7.9" fill="#fff" stroke="#78d0c0" stroke-width="0.75" stroke-opacity="0.8"/>
<text class="l" x="446.1" y="225.5" text-anchor="middle">3%</text>
<rect x="433.3" y="214.3" width="11.5" height="7.9" fill="#fff" stroke="#80b0d0" stroke-width="0.75" stroke-opacity="0.8"/>
<text class="l" x="439.1" y="220.5" text-anchor="middle">0%</text>
<rect x="421.2" y="209.6" width="11.5" height="7.9" fill="#fff" stroke="#b08870" stroke-width="0.75" stroke-opacity="0.8"/>
<text class="l" x="427.0" y="215.8" text-anchor="middle">4%</text>
<rect x="408.3" y="205.8" width="11.5" height="7.9" fill="#fff" stroke="#e07080" stroke-width="0.75" stroke-opacity="0.8"/>
<text class="l" x="414.1" y="212.0" text-anchor="middle">1%</text>
<rect x="290.3" y="347.3" width="14.0" height="7.9" fill="#fff" stroke="#88cc80" stroke-width="0.75" stroke-opacity="0.8"/>
<text class="l" x="297.3" y="353.6" text-anchor="middle">79%</text>
</g>
<g>
<text class="s" x="640.3" y="183.3" text-anchor="middle">2019 - Sprzedaż Wartość</text>
<defs><linearGradient id="g2_1" gradientUnits="userSpaceOnUse" x1="558.12" y1="339.82" x2="721.48" y2="256.58"><stop offset="0" stop-color="#b4dcff"/><stop offset="0.4" stop-color="#b4dcff"/><stop offset="0.55" stop-color="#b0d6ff"/><stop offset="0.7" stop-color="#a9cfff"/><stop offset="0.85" stop-color="#a1c5ff"/><stop offset="1" stop-color="#98baf1"/></linearGradient><linearGradient id="g2_2" gradientUnits="userSpaceOnUse" x1="558.12" y1="339.82" x2="721.48" y2="256.58"><stop offset="0" stop-color="#ffaebc"/><stop offset="0.4" stop-color="#ffaebc"/><stop offset="0.55" stop-color="#ffaab7"/><stop offset="0.7" stop-color="#ffa4b1"/><stop offset="0.85" stop-color="#fb9ca8"/><stop offset="1" stop-color="#ed939f"/></linearGradient><linearGradient id="g2_3" gradientUnits="userSpaceOnUse" x1="558.12" y1="339.82" x2="721.48" y2="256.58"><stop offset="0" stop-color="#fab4ff"/><stop offset="0.4" stop-color="#fab4ff"/><stop offset="0.55" stop-color="#f4b0ff"/><stop offset="0.7" stop-color="#eba9fa"/><stop offset="0.85" stop-color="#e0a1ee"/><stop offset="1" stop-color="#d398e1"/></linearGradient><linearGradient id="g2_4" gradientUnits="userSpaceOnUse" x1="558.12" y1="339.82" x2="721.48" y2="256.58"><stop offset="0" stop-color="#c8bcff"/><stop offset="0.4" stop-color="#c8bcff"/><stop offset="0.55" stop-color="#c3b7ff"/><stop offset="0.7" stop-color="#bcb1ff"/><stop offset="0.85" stop-color="#b3a8f3"/><stop offset="1" stop-color="#a99fe6"/></linearGradient><linearGradient id="g2_5" gradientUnits="userSpaceOnUse" x1="558.12" y1="339.82" x2="721.48" y2="256.58"><stop offset="0" stop-color="#ffd8a8"/><stop offset="0.4" stop-color="#ffd8a8"/><stop offset="0.55" stop-color="#ffd3a4"/><stop offset="0.7" stop-color="#ffcb9e"/><stop offset="0.85" stop-color="#ffc196"/><stop offset="1" stop-color="#f1b78e"/></linearGradient><linearGradient id="g2_6" gradientUnits="userSpaceOnUse" x1="558.12" y1="339.82" x2="721.48" y2="256.58"><stop offset="0" stop-color="#ffffa0"/><stop offset="0.4" stop-color="#ffffa0"/><stop offset="0.55" stop-color="#fffe9c"/><stop offset="0.7" stop-color="#f8f496"/><stop offset="0.85" stop-color="#ece98f"/><stop offset="1" stop-color="#dfdc87"/></linearGradient><linearGradient id="g2_7" gradientUnits="userSpaceOnUse" x1="558.12" y1="339.82" x2="721.48" y2="256.58"><stop offset="0" stop-color="#b8ffa8"/><stop offset="0.4" stop-color="#b8ffa8"/><stop offset="0.55" stop-color="#b3ffa4"/><stop offset="0.7" stop-color="#adfc9e"/><stop offset="0.85" stop-color="#a5f096"/><stop offset="1" stop-color="#9be28e"/></linearGradient><linearGradient id="g2_8" gradientUnits="userSpaceOnUse" x1="558.12" y1="339.82" x2="721.48" y2="256.58"><stop offset="0" stop-color="#acfffe"/><stop offset="0.4" stop-color="#acfffe"/><stop offset="0.55" stop-color="#a8fff8"/><stop offset="0.7" stop-color="#a2f6ef"/><stop offset="0.85" stop-color="#9aeae3"/><stop offset="1" stop-color="#91ddd7"/></linearGradient><linearGradient id="g2_9" gradientUnits="userSpaceOnUse" x1="558.12" y1="339.82" x2="721.48" y2="256.58"><stop offset="0" stop-color="#acdcff"/><stop offset="0.4" stop-color="#acdcff"/><stop offset="0.55" stop-color="#a8d6ff"/><stop offset="0.7" stop-color="#a2cfff"/><stop offset="0.85" stop-color="#9ac5ff"/><stop offset="1" stop-color="#91baf1"/></linearGradient><linearGradient id="g2_10" gradientUnits="userSpaceOnUse" x1="558.12" y1="339.82" x2="721.48" y2="256.58"><stop offset="0" stop-color="#eac8b4"/><stop offset="0.4" stop-color="#eac8b4"/><stop offset="0.55" stop-color="#e4c3b0"/><stop offset="0.7" stop-color="#dcbca9"/><stop offset="0.85" stop-color="#d1b3a1"/><stop offset="1" stop-color="#c6a998"/></linearGradient><linearGradient id="g2_11" gradientUnits="userSpaceOnUse" x1="558.12" y1="339.82" x2="721.48" y2="256.58"><stop offset="0" stop-color="#ff9cac"/><stop offset="0.4" stop-color="#ff9cac"/><stop offset="0.55" stop-color="#ff98a8"/><stop offset="0.7" stop-color="#ff93a2"/><stop offset="0.85" stop-color="#f78c9a"/><stop offset="1" stop-color="#e98491"/></linearGradient><linearGradient id="g2_12" gradientUnits="userSpaceOnUse" x1="558.12" y1="339.82" x2="721.48" y2="256.58"><stop offset="0" stop-color="#c8ffb8"/><stop offset="0.4" stop-color="#c8ffb8"/><stop offset="0.55" stop-color="#c3feb3"/><stop offset="0.7" stop-color="#bcf4ad"/><stop offset="0.85" stop-color="#b3e9a5"/><stop offset="1" stop-color="#a9dc9b"/></linearGradient></defs>
<line x1="704.1" y1="238.9" x2="713.1" y2="231.4" stroke="#d8d070" stroke-width="0.7" stroke-opacity="0.85"/>
<line x1="701.9" y1="237.1" x2="710.3" y2="229.5" stroke="#88d878" stroke-width="0.7" stroke-opacity="0.85"/>
<line x1="713.0" y1="247.7" x2="723.2" y2="241.5" stroke="#e8a878" stroke-width="0.7" stroke-opacity="0.85"/>
<line x1="721.7" y1="259.6" x2="733.0" y2="255.2" stroke="#8a80d8" stroke-width="0.7" stroke-opacity="0.85"/>
<line x1="727.3" y1="270.4" x2="739.0" y2="267.6" stroke="#e87a8a" stroke-width="0.7" stroke-opacity="0.85"/>
<line x1="725.6" y1="266.8" x2="736.9" y2="263.5" stroke="#c084d8" stroke-width="0.7" stroke-opacity="0.85"/>
<line x1="731.1" y1="281.6" x2="742.1" y2="280.4" stroke="#7ba7e0" stroke-width="0.7" stroke-opacity="0.85"/>
<line x1="733.3" y1="295.8" x2="743.2" y2="296.2" stroke="#88cc80" stroke-width="0.7" stroke-opacity="0.85"/>
<line x1="731.6" y1="316.3" x2="741.8" y2="319.1" stroke="#e07080" stroke-width="0.7" stroke-opacity="0.85"/>
<line x1="711.5" y1="353.5" x2="719.2" y2="360.3" stroke="#b08870" stroke-width="0.7" stroke-opacity="0.85"/>
<line x1="674.6" y1="376.5" x2="678.0" y2="385.1" stroke="#80b0d0" stroke-width="0.7" stroke-opacity="0.85"/>
<line x1="554.4" y1="262.2" x2="542.7" y2="258.3" stroke="#78d0c0" stroke-width="0.7" stroke-opacity="0.85"/>
<path d="M732.76 290.48 A93.7 83.4 6 0 0 731.4 283.05 L729.52 292.09 A93 83 6 0 1 730.87 299.49 Z" fill="#6c8cc0" stroke="#6c8cc0" stroke-width="0.3"/>
<path d="M559.68 253.3 A93.7 83.4 6 0 0 648.46 381.52 L647.18 390.12 A93 83 6 0 1 559.09 262.54 Z" fill="#5e948c" stroke="#5e948c" stroke-width="0.3"/>
<path d="M648.46 381.52 A93.7 83.4 6 0 0 690.35 369.57 L688.75 378.21 A93 83 6 0 1 647.18 390.12 Z" fill="#587c94" stroke="#587c94" stroke-width="0.3"/>
<path d="M690.35 369.57 A93.7 83.4 6 0 0 725.22 334.17 L723.38 342.97 A93 83 6 0 1 688.75 378.21 Z" fill="#8c6c5c" stroke="#8c6c5c" stroke-width="0.3"/>
<path d="M725.22 334.17 A93.7 83.4 6 0 0 732.95 292.12 L731.06 301.12 A93 83 6 0 1 723.38 342.97 Z" fill="#b46874" stroke="#b46874" stroke-width="0.3"/>
<path d="M732.95 292.12 A93.7 83.4 6 0 0 732.76 290.48 L730.87 299.49 A93 83 6 0 1 731.06 301.12 Z" fill="#6e9a66" stroke="#6e9a66" stroke-width="0.3"/>
<path d="M559.68 253.3 A93.7 83.4 6 1 0 731.4 283.05 L729.52 292.09 A93 83 6 1 1 559.09 262.54 Z" fill="url(#wallsh)"/>
<clipPath id="bc2"><polygon points="551.7,268.2 549.5,274.3 547.9,280.5 546.8,286.8 546.3,293.2 546.3,299.6 546.9,306.0 548.0,312.4 549.7,318.7 551.9,324.9 554.6,330.9 557.8,336.7 561.5,342.3 565.7,347.6 570.3,352.6 575.3,357.3 580.7,361.7 586.5,365.7 592.5,369.2 598.9,372.4 605.5,375.1 612.3,377.4 619.2,379.2 626.3,380.5 633.5,381.4 640.7,381.7 647.9,381.6 655.0,380.9 662.1,379.8 669.0,378.2 675.7,376.1 682.3,373.5 688.6,370.5 694.5,367.1 700.2,363.3 705.5,359.1 710.5,354.5 715.0,349.6 719.0,344.4 722.6,338.9 725.7,333.1 725.6,334.4 722.5,340.2 718.9,345.7 714.8,350.9 710.3,355.9 705.3,360.5 700.0,364.8 694.3,368.6 688.3,372.1 682.0,375.2 675.5,377.8 668.7,379.9 661.8,381.6 654.7,382.8 647.6,383.6 640.4,383.8 633.2,383.5 626.0,382.8 618.9,381.6 612.0,379.9 605.1,377.7 598.5,375.1 592.2,372.0 586.1,368.5 580.3,364.7 574.9,360.4 569.9,355.8 565.2,350.9 561.1,345.7 557.3,340.2 554.1,334.5 551.3,328.7 549.1,322.6 547.4,316.5 546.3,310.3 545.7,304.0 545.7,297.7 546.2,291.4 547.3,285.1 548.9,278.9 551.1,272.8"/></clipPath>
<g clip-path="url(#bc2)"><g transform="translate(-0.7,5.2)" opacity="0.5">
<path d="M641.1 291.4 L732.76 290.48 A93.7 83.4 6 0 0 728.31 272.99 Z" fill="url(#g2_1)" stroke="url(#g2_1)" stroke-width="0.35"/>
<path d="M641.1 291.4 L728.31 272.99 A93.7 83.4 6 0 0 727.97 272.09 Z" fill="url(#g2_2)" stroke="url(#g2_2)" stroke-width="0.35"/>
<path d="M641.1 291.4 L727.97 272.09 A93.7 83.4 6 0 0 724.92 265.34 Z" fill="url(#g2_3)" stroke="url(#g2_3)" stroke-width="0.35"/>
<path d="M641.1 291.4 L724.92 265.34 A93.7 83.4 6 0 0 719.33 255.9 Z" fill="url(#g2_4)" stroke="url(#g2_4)" stroke-width="0.35"/>
<path d="M641.1 291.4 L719.33 255.9 A93.7 83.4 6 0 0 705.36 240.03 Z" fill="url(#g2_5)" stroke="url(#g2_5)" stroke-width="0.35"/>
<path d="M641.1 291.4 L705.36 240.03 A93.7 83.4 6 0 0 701.85 237.03 Z" fill="url(#g2_6)" stroke="url(#g2_6)" stroke-width="0.35"/>
<path d="M641.1 291.4 L701.85 237.03 A93.7 83.4 6 0 0 701.25 236.55 Z" fill="url(#g2_7)" stroke="url(#g2_7)" stroke-width="0.35"/>
<path d="M641.1 291.4 L701.25 236.55 A93.7 83.4 6 1 0 648.46 381.52 Z" fill="url(#g2_8)" stroke="url(#g2_8)" stroke-width="0.35"/>
<path d="M641.1 291.4 L648.46 381.52 A93.7 83.4 6 0 0 690.35 369.57 Z" fill="url(#g2_9)" stroke="url(#g2_9)" stroke-width="0.35"/>
<path d="M641.1 291.4 L690.35 369.57 A93.7 83.4 6 0 0 725.22 334.17 Z" fill="url(#g2_10)" stroke="url(#g2_10)" stroke-width="0.35"/>
<path d="M641.1 291.4 L725.22 334.17 A93.7 83.4 6 0 0 732.95 292.12 Z" fill="url(#g2_11)" stroke="url(#g2_11)" stroke-width="0.35"/>
<path d="M641.1 291.4 L732.95 292.12 A93.7 83.4 6 0 0 732.76 290.48 Z" fill="url(#g2_12)" stroke="url(#g2_12)" stroke-width="0.35"/>
</g></g>
<path d="M641.1 291.4 L732.76 290.48 A93.7 83.4 6 0 0 728.31 272.99 Z" fill="url(#g2_1)" stroke="url(#g2_1)" stroke-width="0.35"/>
<path d="M641.1 291.4 L728.31 272.99 A93.7 83.4 6 0 0 727.97 272.09 Z" fill="url(#g2_2)" stroke="url(#g2_2)" stroke-width="0.35"/>
<path d="M641.1 291.4 L727.97 272.09 A93.7 83.4 6 0 0 724.92 265.34 Z" fill="url(#g2_3)" stroke="url(#g2_3)" stroke-width="0.35"/>
<path d="M641.1 291.4 L724.92 265.34 A93.7 83.4 6 0 0 719.33 255.9 Z" fill="url(#g2_4)" stroke="url(#g2_4)" stroke-width="0.35"/>
<path d="M641.1 291.4 L719.33 255.9 A93.7 83.4 6 0 0 705.36 240.03 Z" fill="url(#g2_5)" stroke="url(#g2_5)" stroke-width="0.35"/>
<path d="M641.1 291.4 L705.36 240.03 A93.7 83.4 6 0 0 701.85 237.03 Z" fill="url(#g2_6)" stroke="url(#g2_6)" stroke-width="0.35"/>
<path d="M641.1 291.4 L701.85 237.03 A93.7 83.4 6 0 0 701.25 236.55 Z" fill="url(#g2_7)" stroke="url(#g2_7)" stroke-width="0.35"/>
<path d="M641.1 291.4 L701.25 236.55 A93.7 83.4 6 1 0 648.46 381.52 Z" fill="url(#g2_8)" stroke="url(#g2_8)" stroke-width="0.35"/>
<path d="M641.1 291.4 L648.46 381.52 A93.7 83.4 6 0 0 690.35 369.57 Z" fill="url(#g2_9)" stroke="url(#g2_9)" stroke-width="0.35"/>
<path d="M641.1 291.4 L690.35 369.57 A93.7 83.4 6 0 0 725.22 334.17 Z" fill="url(#g2_10)" stroke="url(#g2_10)" stroke-width="0.35"/>
<path d="M641.1 291.4 L725.22 334.17 A93.7 83.4 6 0 0 732.95 292.12 Z" fill="url(#g2_11)" stroke="url(#g2_11)" stroke-width="0.35"/>
<path d="M641.1 291.4 L732.95 292.12 A93.7 83.4 6 0 0 732.76 290.48 Z" fill="url(#g2_12)" stroke="url(#g2_12)" stroke-width="0.35"/>
<ellipse cx="639.8" cy="298.2" rx="93.7" ry="83.4" fill="url(#sh)" transform="rotate(6 639.8 298.2)"/>
<path d="M732.76 290.48 A93.7 83.4 6 0 0 728.31 272.99" fill="none" stroke="#6c8cc0" stroke-width="1.05" stroke-opacity="0.62"/>
<path d="M728.31 272.99 A93.7 83.4 6 0 0 727.97 272.09" fill="none" stroke="#bd7a84" stroke-width="1.05" stroke-opacity="0.62"/>
<path d="M727.97 272.09 A93.7 83.4 6 0 0 724.92 265.34" fill="none" stroke="#9a72aa" stroke-width="1.05" stroke-opacity="0.62"/>
<path d="M724.92 265.34 A93.7 83.4 6 0 0 719.33 255.9" fill="none" stroke="#7c74b8" stroke-width="1.05" stroke-opacity="0.62"/>
<path d="M719.33 255.9 A93.7 83.4 6 0 0 705.36 240.03" fill="none" stroke="#b08c64" stroke-width="1.05" stroke-opacity="0.62"/>
<path d="M705.36 240.03 A93.7 83.4 6 0 0 701.85 237.03" fill="none" stroke="#a8a460" stroke-width="1.05" stroke-opacity="0.62"/>
<path d="M701.85 237.03 A93.7 83.4 6 0 0 701.25 236.55" fill="none" stroke="#70a868" stroke-width="1.05" stroke-opacity="0.62"/>
<path d="M701.25 236.55 A93.7 83.4 6 1 0 648.46 381.52" fill="none" stroke="#5e948c" stroke-width="1.05" stroke-opacity="0.62"/>
<path d="M648.46 381.52 A93.7 83.4 6 0 0 690.35 369.57" fill="none" stroke="#587c94" stroke-width="1.05" stroke-opacity="0.62"/>
<path d="M690.35 369.57 A93.7 83.4 6 0 0 725.22 334.17" fill="none" stroke="#8c6c5c" stroke-width="1.05" stroke-opacity="0.62"/>
<path d="M725.22 334.17 A93.7 83.4 6 0 0 732.95 292.12" fill="none" stroke="#b46874" stroke-width="1.05" stroke-opacity="0.62"/>
<path d="M732.95 292.12 A93.7 83.4 6 0 0 732.76 290.48" fill="none" stroke="#6e9a66" stroke-width="1.05" stroke-opacity="0.62"/>
<ellipse cx="639.8" cy="298.2" rx="93.7" ry="83.4" fill="none" stroke="url(#rim)" stroke-width="0.95" transform="rotate(6 639.8 298.2)"/>
<rect x="707.3" y="227.5" width="11.5" height="7.9" fill="#fff" stroke="#d8d070" stroke-width="0.75" stroke-opacity="0.8"/>
<text class="l" x="713.1" y="233.7" text-anchor="middle">0%</text>
<rect x="704.6" y="225.6" width="11.5" height="7.9" fill="#fff" stroke="#88d878" stroke-width="0.75" stroke-opacity="0.8"/>
<text class="l" x="710.3" y="231.8" text-anchor="middle">0%</text>
<rect x="717.5" y="237.5" width="11.5" height="7.9" fill="#fff" stroke="#e8a878" stroke-width="0.75" stroke-opacity="0.8"/>
<text class="l" x="723.2" y="243.8" text-anchor="middle">4%</text>
<rect x="727.2" y="251.2" width="11.5" height="7.9" fill="#fff" stroke="#8a80d8" stroke-width="0.75" stroke-opacity="0.8"/>
<text class="l" x="733.0" y="257.5" text-anchor="middle">2%</text>
<rect x="733.2" y="263.6" width="11.5" height="7.9" fill="#fff" stroke="#e87a8a" stroke-width="0.75" stroke-opacity="0.8"/>
<text class="l" x="739.0" y="269.9" text-anchor="middle">0%</text>
<rect x="731.2" y="259.5" width="11.5" height="7.9" fill="#fff" stroke="#c084d8" stroke-width="0.75" stroke-opacity="0.8"/>
<text class="l" x="736.9" y="265.8" text-anchor="middle">1%</text>
<rect x="736.4" y="276.5" width="11.5" height="7.9" fill="#fff" stroke="#7ba7e0" stroke-width="0.75" stroke-opacity="0.8"/>
<text class="l" x="742.1" y="282.7" text-anchor="middle">4%</text>
<rect x="737.4" y="292.3" width="11.5" height="7.9" fill="#fff" stroke="#88cc80" stroke-width="0.75" stroke-opacity="0.8"/>
<text class="l" x="743.2" y="298.6" text-anchor="middle">0%</text>
<rect x="736.0" y="315.1" width="11.5" height="7.9" fill="#fff" stroke="#e07080" stroke-width="0.75" stroke-opacity="0.8"/>
<text class="l" x="741.8" y="321.4" text-anchor="middle">8%</text>
<rect x="713.5" y="356.4" width="11.5" height="7.9" fill="#fff" stroke="#b08870" stroke-width="0.75" stroke-opacity="0.8"/>
<text class="l" x="719.2" y="362.6" text-anchor="middle">8%</text>
<rect x="672.2" y="381.1" width="11.5" height="7.9" fill="#fff" stroke="#80b0d0" stroke-width="0.75" stroke-opacity="0.8"/>
<text class="l" x="678.0" y="387.4" text-anchor="middle">7%</text>
<rect x="535.7" y="254.4" width="14.0" height="7.9" fill="#fff" stroke="#78d0c0" stroke-width="0.75" stroke-opacity="0.8"/>
<text class="l" x="542.7" y="260.6" text-anchor="middle">64%</text>
</g>
<g>
<text class="s" x="129.7" y="417.2" text-anchor="middle">2020 - Sprzedaż Wartość</text>
<defs><linearGradient id="g3_1" gradientUnits="userSpaceOnUse" x1="47.52" y1="573.72" x2="210.88" y2="490.48"><stop offset="0" stop-color="#b4dcff"/><stop offset="0.4" stop-color="#b4dcff"/><stop offset="0.55" stop-color="#b0d6ff"/><stop offset="0.7" stop-color="#a9cfff"/><stop offset="0.85" stop-color="#a1c5ff"/><stop offset="1" stop-color="#98baf1"/></linearGradient><linearGradient id="g3_2" gradientUnits="userSpaceOnUse" x1="47.52" y1="573.72" x2="210.88" y2="490.48"><stop offset="0" stop-color="#ffaebc"/><stop offset="0.4" stop-color="#ffaebc"/><stop offset="0.55" stop-color="#ffaab7"/><stop offset="0.7" stop-color="#ffa4b1"/><stop offset="0.85" stop-color="#fb9ca8"/><stop offset="1" stop-color="#ed939f"/></linearGradient><linearGradient id="g3_5" gradientUnits="userSpaceOnUse" x1="47.52" y1="573.72" x2="210.88" y2="490.48"><stop offset="0" stop-color="#ffd8a8"/><stop offset="0.4" stop-color="#ffd8a8"/><stop offset="0.55" stop-color="#ffd3a4"/><stop offset="0.7" stop-color="#ffcb9e"/><stop offset="0.85" stop-color="#ffc196"/><stop offset="1" stop-color="#f1b78e"/></linearGradient><linearGradient id="g3_6" gradientUnits="userSpaceOnUse" x1="47.52" y1="573.72" x2="210.88" y2="490.48"><stop offset="0" stop-color="#ffffa0"/><stop offset="0.4" stop-color="#ffffa0"/><stop offset="0.55" stop-color="#fffe9c"/><stop offset="0.7" stop-color="#f8f496"/><stop offset="0.85" stop-color="#ece98f"/><stop offset="1" stop-color="#dfdc87"/></linearGradient><linearGradient id="g3_7" gradientUnits="userSpaceOnUse" x1="47.52" y1="573.72" x2="210.88" y2="490.48"><stop offset="0" stop-color="#b8ffa8"/><stop offset="0.4" stop-color="#b8ffa8"/><stop offset="0.55" stop-color="#b3ffa4"/><stop offset="0.7" stop-color="#adfc9e"/><stop offset="0.85" stop-color="#a5f096"/><stop offset="1" stop-color="#9be28e"/></linearGradient><linearGradient id="g3_11" gradientUnits="userSpaceOnUse" x1="47.52" y1="573.72" x2="210.88" y2="490.48"><stop offset="0" stop-color="#ff9cac"/><stop offset="0.4" stop-color="#ff9cac"/><stop offset="0.55" stop-color="#ff98a8"/><stop offset="0.7" stop-color="#ff93a2"/><stop offset="0.85" stop-color="#f78c9a"/><stop offset="1" stop-color="#e98491"/></linearGradient><linearGradient id="g3_12" gradientUnits="userSpaceOnUse" x1="47.52" y1="573.72" x2="210.88" y2="490.48"><stop offset="0" stop-color="#c8ffb8"/><stop offset="0.4" stop-color="#c8ffb8"/><stop offset="0.55" stop-color="#c3feb3"/><stop offset="0.7" stop-color="#bcf4ad"/><stop offset="0.85" stop-color="#b3e9a5"/><stop offset="1" stop-color="#a9dc9b"/></linearGradient></defs>
<line x1="107.2" y1="450.5" x2="104.7" y2="441.8" stroke="#d8d070" stroke-width="0.7" stroke-opacity="0.85"/>
<line x1="217.4" y1="506.1" x2="228.2" y2="503.7" stroke="#e8a878" stroke-width="0.7" stroke-opacity="0.85"/>
<line x1="220.8" y1="517.0" x2="230.4" y2="516.1" stroke="#e87a8a" stroke-width="0.7" stroke-opacity="0.85"/>
<line x1="222.1" y1="524.2" x2="231.2" y2="524.0" stroke="#7ba7e0" stroke-width="0.7" stroke-opacity="0.85"/>
<line x1="35.7" y1="534.4" x2="26.1" y2="535.3" stroke="#88d878" stroke-width="0.7" stroke-opacity="0.85"/>
<line x1="38.5" y1="550.6" x2="28.1" y2="553.5" stroke="#e07080" stroke-width="0.7" stroke-opacity="0.85"/>
<line x1="157.6" y1="612.3" x2="160.2" y2="620.6" stroke="#88cc80" stroke-width="0.7" stroke-opacity="0.85"/>
<path d="M222.15 524.34 A93.7 83.4 6 0 0 222.04 523.53 L220.15 532.55 A93 83 6 0 1 220.26 533.35 Z" fill="#6c8cc0" stroke="#6c8cc0" stroke-width="0.3"/>
<path d="M222.04 523.53 A93.7 83.4 6 0 0 220.8 516.95 L218.92 525.99 A93 83 6 0 1 220.15 532.55 Z" fill="#bd7a84" stroke="#bd7a84" stroke-width="0.3"/>
<path d="M49.08 487.2 A93.7 83.4 6 0 0 35.81 535.59 L35.3 544.59 A93 83 6 0 1 48.49 496.44 Z" fill="#a8a460" stroke="#a8a460" stroke-width="0.3"/>
<path d="M35.81 535.59 A93.7 83.4 6 0 0 35.85 536.14 L35.35 545.15 A93 83 6 0 1 35.3 544.59 Z" fill="#70a868" stroke="#70a868" stroke-width="0.3"/>
<path d="M35.85 536.14 A93.7 83.4 6 0 0 41.73 559.91 L41.17 568.8 A93 83 6 0 1 35.35 545.15 Z" fill="#b46874" stroke="#b46874" stroke-width="0.3"/>
<path d="M41.73 559.91 A93.7 83.4 6 0 0 222.15 524.34 L220.26 533.35 A93 83 6 0 1 41.17 568.8 Z" fill="#6e9a66" stroke="#6e9a66" stroke-width="0.3"/>
<path d="M49.08 487.2 A93.7 83.4 6 1 0 220.8 516.95 L218.92 525.99 A93 83 6 1 1 48.49 496.44 Z" fill="url(#wallsh)"/>
<clipPath id="bc3"><polygon points="41.1,502.1 38.9,508.2 37.3,514.4 36.2,520.7 35.7,527.1 35.7,533.5 36.3,539.9 37.4,546.3 39.1,552.6 41.3,558.8 44.0,564.8 47.2,570.6 50.9,576.2 55.1,581.5 59.7,586.5 64.7,591.2 70.1,595.6 75.9,599.6 81.9,603.1 88.3,606.3 94.9,609.0 101.7,611.3 108.6,613.1 115.7,614.4 122.9,615.3 130.1,615.6 137.3,615.5 144.4,614.8 151.5,613.7 158.4,612.1 165.1,610.0 171.7,607.4 178.0,604.4 183.9,601.0 189.6,597.2 194.9,593.0 199.9,588.4 204.4,583.5 208.4,578.3 212.0,572.8 215.1,567.0 215.0,568.3 211.9,574.1 208.3,579.6 204.2,584.8 199.7,589.8 194.7,594.4 189.4,598.7 183.7,602.5 177.7,606.0 171.4,609.1 164.9,611.7 158.1,613.8 151.2,615.5 144.1,616.7 137.0,617.5 129.8,617.7 122.6,617.4 115.4,616.7 108.3,615.5 101.4,613.8 94.5,611.6 87.9,609.0 81.6,605.9 75.5,602.4 69.7,598.6 64.3,594.3 59.3,589.7 54.6,584.8 50.5,579.6 46.7,574.1 43.5,568.4 40.7,562.6 38.5,556.5 36.8,550.4 35.7,544.2 35.1,537.9 35.1,531.6 35.6,525.3 36.7,519.0 38.3,512.8 40.5,506.7"/></clipPath>
<g clip-path="url(#bc3)"><g transform="translate(-0.7,5.2)" opacity="0.5">
<path d="M129.3 525.5 L222.15 524.34 A93.7 83.4 6 0 0 222.04 523.53 Z" fill="url(#g3_1)" stroke="url(#g3_1)" stroke-width="0.35"/>
<path d="M129.3 525.5 L222.04 523.53 A93.7 83.4 6 0 0 218.57 509.22 Z" fill="url(#g3_2)" stroke="url(#g3_2)" stroke-width="0.35"/>
<path d="M129.3 525.5 L218.57 509.22 A93.7 83.4 6 0 0 218.19 508.16 Z" fill="url(#g3_5)" stroke="url(#g3_5)" stroke-width="0.35"/>
<path d="M129.3 525.5 L218.19 508.16 A93.7 83.4 6 0 0 35.81 535.59 Z" fill="url(#g3_6)" stroke="url(#g3_6)" stroke-width="0.35"/>
<path d="M129.3 525.5 L35.81 535.59 A93.7 83.4 6 0 0 35.85 536.14 Z" fill="url(#g3_7)" stroke="url(#g3_7)" stroke-width="0.35"/>
<path d="M129.3 525.5 L35.85 536.14 A93.7 83.4 6 0 0 41.73 559.91 Z" fill="url(#g3_11)" stroke="url(#g3_11)" stroke-width="0.35"/>
<path d="M129.3 525.5 L41.73 559.91 A93.7 83.4 6 0 0 222.15 524.34 Z" fill="url(#g3_12)" stroke="url(#g3_12)" stroke-width="0.35"/>
</g></g>
<path d="M129.3 525.5 L222.15 524.34 A93.7 83.4 6 0 0 222.04 523.53 Z" fill="url(#g3_1)" stroke="url(#g3_1)" stroke-width="0.35"/>
<path d="M129.3 525.5 L222.04 523.53 A93.7 83.4 6 0 0 218.57 509.22 Z" fill="url(#g3_2)" stroke="url(#g3_2)" stroke-width="0.35"/>
<path d="M129.3 525.5 L218.57 509.22 A93.7 83.4 6 0 0 218.19 508.16 Z" fill="url(#g3_5)" stroke="url(#g3_5)" stroke-width="0.35"/>
<path d="M129.3 525.5 L218.19 508.16 A93.7 83.4 6 0 0 35.81 535.59 Z" fill="url(#g3_6)" stroke="url(#g3_6)" stroke-width="0.35"/>
<path d="M129.3 525.5 L35.81 535.59 A93.7 83.4 6 0 0 35.85 536.14 Z" fill="url(#g3_7)" stroke="url(#g3_7)" stroke-width="0.35"/>
<path d="M129.3 525.5 L35.85 536.14 A93.7 83.4 6 0 0 41.73 559.91 Z" fill="url(#g3_11)" stroke="url(#g3_11)" stroke-width="0.35"/>
<path d="M129.3 525.5 L41.73 559.91 A93.7 83.4 6 0 0 222.15 524.34 Z" fill="url(#g3_12)" stroke="url(#g3_12)" stroke-width="0.35"/>
<ellipse cx="129.2" cy="532.1" rx="93.7" ry="83.4" fill="url(#sh)" transform="rotate(6 129.2 532.1)"/>
<path d="M222.15 524.34 A93.7 83.4 6 0 0 222.04 523.53" fill="none" stroke="#6c8cc0" stroke-width="1.05" stroke-opacity="0.62"/>
<path d="M222.04 523.53 A93.7 83.4 6 0 0 218.57 509.22" fill="none" stroke="#bd7a84" stroke-width="1.05" stroke-opacity="0.62"/>
<path d="M218.57 509.22 A93.7 83.4 6 0 0 218.19 508.16" fill="none" stroke="#b08c64" stroke-width="1.05" stroke-opacity="0.62"/>
<path d="M218.19 508.16 A93.7 83.4 6 0 0 35.81 535.59" fill="none" stroke="#a8a460" stroke-width="1.05" stroke-opacity="0.62"/>
<path d="M35.81 535.59 A93.7 83.4 6 0 0 35.85 536.14" fill="none" stroke="#70a868" stroke-width="1.05" stroke-opacity="0.62"/>
<path d="M35.85 536.14 A93.7 83.4 6 0 0 41.73 559.91" fill="none" stroke="#b46874" stroke-width="1.05" stroke-opacity="0.62"/>
<path d="M41.73 559.91 A93.7 83.4 6 0 0 222.15 524.34" fill="none" stroke="#6e9a66" stroke-width="1.05" stroke-opacity="0.62"/>
<ellipse cx="129.2" cy="532.1" rx="93.7" ry="83.4" fill="none" stroke="url(#rim)" stroke-width="0.95" transform="rotate(6 129.2 532.1)"/>
<rect x="97.7" y="437.9" width="14.0" height="7.9" fill="#fff" stroke="#d8d070" stroke-width="0.75" stroke-opacity="0.8"/>
<text class="l" x="104.7" y="444.1" text-anchor="middle">48%</text>
<rect x="222.4" y="499.8" width="11.5" height="7.9" fill="#fff" stroke="#e8a878" stroke-width="0.75" stroke-opacity="0.8"/>
<text class="l" x="228.2" y="506.0" text-anchor="middle">0%</text>
<rect x="224.6" y="512.1" width="11.5" height="7.9" fill="#fff" stroke="#e87a8a" stroke-width="0.75" stroke-opacity="0.8"/>
<text class="l" x="230.4" y="518.4" text-anchor="middle">3%</text>
<rect x="225.5" y="520.1" width="11.5" height="7.9" fill="#fff" stroke="#7ba7e0" stroke-width="0.75" stroke-opacity="0.8"/>
<text class="l" x="231.2" y="526.3" text-anchor="middle">0%</text>
<rect x="20.3" y="531.4" width="11.5" height="7.9" fill="#fff" stroke="#88d878" stroke-width="0.75" stroke-opacity="0.8"/>
<text class="l" x="26.1" y="537.6" text-anchor="middle">0%</text>
<rect x="22.4" y="549.5" width="11.5" height="7.9" fill="#fff" stroke="#e07080" stroke-width="0.75" stroke-opacity="0.8"/>
<text class="l" x="28.1" y="555.8" text-anchor="middle">5%</text>
<rect x="153.2" y="616.6" width="14.0" height="7.9" fill="#fff" stroke="#88cc80" stroke-width="0.75" stroke-opacity="0.8"/>
<text class="l" x="160.2" y="622.9" text-anchor="middle">44%</text>
</g>
<g>
<text class="s" x="385.1" y="417.2" text-anchor="middle">2021 - Sprzedaż Wartość</text>
<defs><linearGradient id="g4_1" gradientUnits="userSpaceOnUse" x1="302.92" y1="573.72" x2="466.28" y2="490.48"><stop offset="0" stop-color="#b4dcff"/><stop offset="0.4" stop-color="#b4dcff"/><stop offset="0.55" stop-color="#b0d6ff"/><stop offset="0.7" stop-color="#a9cfff"/><stop offset="0.85" stop-color="#a1c5ff"/><stop offset="1" stop-color="#98baf1"/></linearGradient><linearGradient id="g4_2" gradientUnits="userSpaceOnUse" x1="302.92" y1="573.72" x2="466.28" y2="490.48"><stop offset="0" stop-color="#ffaebc"/><stop offset="0.4" stop-color="#ffaebc"/><stop offset="0.55" stop-color="#ffaab7"/><stop offset="0.7" stop-color="#ffa4b1"/><stop offset="0.85" stop-color="#fb9ca8"/><stop offset="1" stop-color="#ed939f"/></linearGradient><linearGradient id="g4_3" gradientUnits="userSpaceOnUse" x1="302.92" y1="573.72" x2="466.28" y2="490.48"><stop offset="0" stop-color="#fab4ff"/><stop offset="0.4" stop-color="#fab4ff"/><stop offset="0.55" stop-color="#f4b0ff"/><stop offset="0.7" stop-color="#eba9fa"/><stop offset="0.85" stop-color="#e0a1ee"/><stop offset="1" stop-color="#d398e1"/></linearGradient><linearGradient id="g4_4" gradientUnits="userSpaceOnUse" x1="302.92" y1="573.72" x2="466.28" y2="490.48"><stop offset="0" stop-color="#c8bcff"/><stop offset="0.4" stop-color="#c8bcff"/><stop offset="0.55" stop-color="#c3b7ff"/><stop offset="0.7" stop-color="#bcb1ff"/><stop offset="0.85" stop-color="#b3a8f3"/><stop offset="1" stop-color="#a99fe6"/></linearGradient><linearGradient id="g4_5" gradientUnits="userSpaceOnUse" x1="302.92" y1="573.72" x2="466.28" y2="490.48"><stop offset="0" stop-color="#ffd8a8"/><stop offset="0.4" stop-color="#ffd8a8"/><stop offset="0.55" stop-color="#ffd3a4"/><stop offset="0.7" stop-color="#ffcb9e"/><stop offset="0.85" stop-color="#ffc196"/><stop offset="1" stop-color="#f1b78e"/></linearGradient><linearGradient id="g4_6" gradientUnits="userSpaceOnUse" x1="302.92" y1="573.72" x2="466.28" y2="490.48"><stop offset="0" stop-color="#ffffa0"/><stop offset="0.4" stop-color="#ffffa0"/><stop offset="0.55" stop-color="#fffe9c"/><stop offset="0.7" stop-color="#f8f496"/><stop offset="0.85" stop-color="#ece98f"/><stop offset="1" stop-color="#dfdc87"/></linearGradient><linearGradient id="g4_7" gradientUnits="userSpaceOnUse" x1="302.92" y1="573.72" x2="466.28" y2="490.48"><stop offset="0" stop-color="#b8ffa8"/><stop offset="0.4" stop-color="#b8ffa8"/><stop offset="0.55" stop-color="#b3ffa4"/><stop offset="0.7" stop-color="#adfc9e"/><stop offset="0.85" stop-color="#a5f096"/><stop offset="1" stop-color="#9be28e"/></linearGradient><linearGradient id="g4_10" gradientUnits="userSpaceOnUse" x1="302.92" y1="573.72" x2="466.28" y2="490.48"><stop offset="0" stop-color="#eac8b4"/><stop offset="0.4" stop-color="#eac8b4"/><stop offset="0.55" stop-color="#e4c3b0"/><stop offset="0.7" stop-color="#dcbca9"/><stop offset="0.85" stop-color="#d1b3a1"/><stop offset="1" stop-color="#c6a998"/></linearGradient><linearGradient id="g4_12" gradientUnits="userSpaceOnUse" x1="302.92" y1="573.72" x2="466.28" y2="490.48"><stop offset="0" stop-color="#c8ffb8"/><stop offset="0.4" stop-color="#c8ffb8"/><stop offset="0.55" stop-color="#c3feb3"/><stop offset="0.7" stop-color="#bcf4ad"/><stop offset="0.85" stop-color="#b3e9a5"/><stop offset="1" stop-color="#a9dc9b"/></linearGradient></defs>
<line x1="349.6" y1="453.9" x2="345.4" y2="445.7" stroke="#e87a8a" stroke-width="0.7" stroke-opacity="0.85"/>
<line x1="438.2" y1="464.8" x2="445.8" y2="456.1" stroke="#7ba7e0" stroke-width="0.7" stroke-opacity="0.85"/>
<line x1="478.1" y1="538.1" x2="488.2" y2="539.5" stroke="#88cc80" stroke-width="0.7" stroke-opacity="0.85"/>
<line x1="475.1" y1="555.4" x2="484.9" y2="558.7" stroke="#b08870" stroke-width="0.7" stroke-opacity="0.85"/>
<line x1="471.6" y1="564.9" x2="481.6" y2="569.4" stroke="#88d878" stroke-width="0.7" stroke-opacity="0.85"/>
<line x1="463.6" y1="578.5" x2="472.5" y2="584.5" stroke="#d8d070" stroke-width="0.7" stroke-opacity="0.85"/>
<line x1="453.4" y1="590.2" x2="460.7" y2="597.2" stroke="#e8a878" stroke-width="0.7" stroke-opacity="0.85"/>
<line x1="410.1" y1="613.0" x2="412.6" y2="621.7" stroke="#8a80d8" stroke-width="0.7" stroke-opacity="0.85"/>
<line x1="291.0" y1="528.6" x2="279.2" y2="529.0" stroke="#c084d8" stroke-width="0.7" stroke-opacity="0.85"/>
<path d="M477.62 524.88 A93.7 83.4 6 0 0 476.2 516.95 L474.32 525.99 A93 83 6 0 1 475.73 533.89 Z" fill="#6c8cc0" stroke="#6c8cc0" stroke-width="0.3"/>
<path d="M304.48 487.2 A93.7 83.4 6 0 0 353.39 610.14 L352.4 618.77 A93 83 6 0 1 303.89 496.44 Z" fill="#9a72aa" stroke="#9a72aa" stroke-width="0.3"/>
<path d="M353.39 610.14 A93.7 83.4 6 0 0 450.04 593.21 L448.34 601.9 A93 83 6 0 1 352.4 618.77 Z" fill="#7c74b8" stroke="#7c74b8" stroke-width="0.3"/>
<path d="M450.04 593.21 A93.7 83.4 6 0 0 455.14 588.51 L453.4 597.21 A93 83 6 0 1 448.34 601.9 Z" fill="#b08c64" stroke="#b08c64" stroke-width="0.3"/>
<path d="M455.14 588.51 A93.7 83.4 6 0 0 471.38 565.25 L469.53 574.06 A93 83 6 0 1 453.4 597.21 Z" fill="#a8a460" stroke="#a8a460" stroke-width="0.3"/>
<path d="M471.38 565.25 A93.7 83.4 6 0 0 473.39 560.43 L471.52 569.27 A93 83 6 0 1 469.53 574.06 Z" fill="#70a868" stroke="#70a868" stroke-width="0.3"/>
<path d="M473.39 560.43 A93.7 83.4 6 0 0 477.3 545.59 L475.41 554.5 A93 83 6 0 1 471.52 569.27 Z" fill="#8c6c5c" stroke="#8c6c5c" stroke-width="0.3"/>
<path d="M477.3 545.59 A93.7 83.4 6 0 0 477.62 524.88 L475.73 533.89 A93 83 6 0 1 475.41 554.5 Z" fill="#6e9a66" stroke="#6e9a66" stroke-width="0.3"/>
<path d="M304.48 487.2 A93.7 83.4 6 1 0 476.2 516.95 L474.32 525.99 A93 83 6 1 1 303.89 496.44 Z" fill="url(#wallsh)"/>
<clipPath id="bc4"><polygon points="296.5,502.1 294.3,508.2 292.7,514.4 291.6,520.7 291.1,527.1 291.1,533.5 291.7,539.9 292.8,546.3 294.5,552.6 296.7,558.8 299.4,564.8 302.6,570.6 306.3,576.2 310.5,581.5 315.1,586.5 320.1,591.2 325.5,595.6 331.3,599.6 337.3,603.1 343.7,606.3 350.3,609.0 357.1,611.3 364.0,613.1 371.1,614.4 378.3,615.3 385.5,615.6 392.7,615.5 399.8,614.8 406.9,613.7 413.8,612.1 420.5,610.0 427.1,607.4 433.4,604.4 439.3,601.0 445.0,597.2 450.3,593.0 455.3,588.4 459.8,583.5 463.8,578.3 467.4,572.8 470.5,567.0 470.4,568.3 467.3,574.1 463.7,579.6 459.6,584.8 455.1,589.8 450.1,594.4 444.8,598.7 439.1,602.5 433.1,606.0 426.8,609.1 420.3,611.7 413.5,613.8 406.6,615.5 399.5,616.7 392.4,617.5 385.2,617.7 378.0,617.4 370.8,616.7 363.7,615.5 356.8,613.8 349.9,611.6 343.3,609.0 337.0,605.9 330.9,602.4 325.1,598.6 319.7,594.3 314.7,589.7 310.0,584.8 305.9,579.6 302.1,574.1 298.9,568.4 296.1,562.6 293.9,556.5 292.2,550.4 291.1,544.2 290.5,537.9 290.5,531.6 291.0,525.3 292.1,519.0 293.7,512.8 295.9,506.7"/></clipPath>
<g clip-path="url(#bc4)"><g transform="translate(-0.7,5.2)" opacity="0.5">
<path d="M385.4 525.65 L477.62 524.88 A93.7 83.4 6 0 0 359.45 451.13 Z" fill="url(#g4_1)" stroke="url(#g4_1)" stroke-width="0.35"/>
<path d="M385.4 525.65 L359.45 451.13 A93.7 83.4 6 0 0 348.14 454.41 Z" fill="url(#g4_2)" stroke="url(#g4_2)" stroke-width="0.35"/>
<path d="M385.4 525.65 L348.14 454.41 A93.7 83.4 6 0 0 353.39 610.14 Z" fill="url(#g4_3)" stroke="url(#g4_3)" stroke-width="0.35"/>
<path d="M385.4 525.65 L353.39 610.14 A93.7 83.4 6 0 0 450.04 593.21 Z" fill="url(#g4_4)" stroke="url(#g4_4)" stroke-width="0.35"/>
<path d="M385.4 525.65 L450.04 593.21 A93.7 83.4 6 0 0 455.14 588.51 Z" fill="url(#g4_5)" stroke="url(#g4_5)" stroke-width="0.35"/>
<path d="M385.4 525.65 L455.14 588.51 A93.7 83.4 6 0 0 471.38 565.25 Z" fill="url(#g4_6)" stroke="url(#g4_6)" stroke-width="0.35"/>
<path d="M385.4 525.65 L471.38 565.25 A93.7 83.4 6 0 0 473.39 560.43 Z" fill="url(#g4_7)" stroke="url(#g4_7)" stroke-width="0.35"/>
<path d="M385.4 525.65 L473.39 560.43 A93.7 83.4 6 0 0 477.3 545.59 Z" fill="url(#g4_10)" stroke="url(#g4_10)" stroke-width="0.35"/>
<path d="M385.4 525.65 L477.3 545.59 A93.7 83.4 6 0 0 477.62 524.88 Z" fill="url(#g4_12)" stroke="url(#g4_12)" stroke-width="0.35"/>
</g></g>
<path d="M385.4 525.65 L477.62 524.88 A93.7 83.4 6 0 0 359.45 451.13 Z" fill="url(#g4_1)" stroke="url(#g4_1)" stroke-width="0.35"/>
<path d="M385.4 525.65 L359.45 451.13 A93.7 83.4 6 0 0 348.14 454.41 Z" fill="url(#g4_2)" stroke="url(#g4_2)" stroke-width="0.35"/>
<path d="M385.4 525.65 L348.14 454.41 A93.7 83.4 6 0 0 353.39 610.14 Z" fill="url(#g4_3)" stroke="url(#g4_3)" stroke-width="0.35"/>
<path d="M385.4 525.65 L353.39 610.14 A93.7 83.4 6 0 0 450.04 593.21 Z" fill="url(#g4_4)" stroke="url(#g4_4)" stroke-width="0.35"/>
<path d="M385.4 525.65 L450.04 593.21 A93.7 83.4 6 0 0 455.14 588.51 Z" fill="url(#g4_5)" stroke="url(#g4_5)" stroke-width="0.35"/>
<path d="M385.4 525.65 L455.14 588.51 A93.7 83.4 6 0 0 471.38 565.25 Z" fill="url(#g4_6)" stroke="url(#g4_6)" stroke-width="0.35"/>
<path d="M385.4 525.65 L471.38 565.25 A93.7 83.4 6 0 0 473.39 560.43 Z" fill="url(#g4_7)" stroke="url(#g4_7)" stroke-width="0.35"/>
<path d="M385.4 525.65 L473.39 560.43 A93.7 83.4 6 0 0 477.3 545.59 Z" fill="url(#g4_10)" stroke="url(#g4_10)" stroke-width="0.35"/>
<path d="M385.4 525.65 L477.3 545.59 A93.7 83.4 6 0 0 477.62 524.88 Z" fill="url(#g4_12)" stroke="url(#g4_12)" stroke-width="0.35"/>
<ellipse cx="384.6" cy="532.1" rx="93.7" ry="83.4" fill="url(#sh)" transform="rotate(6 384.6 532.1)"/>
<path d="M477.62 524.88 A93.7 83.4 6 0 0 359.45 451.13" fill="none" stroke="#6c8cc0" stroke-width="1.05" stroke-opacity="0.62"/>
<path d="M359.45 451.13 A93.7 83.4 6 0 0 348.14 454.41" fill="none" stroke="#bd7a84" stroke-width="1.05" stroke-opacity="0.62"/>
<path d="M348.14 454.41 A93.7 83.4 6 0 0 353.39 610.14" fill="none" stroke="#9a72aa" stroke-width="1.05" stroke-opacity="0.62"/>
<path d="M353.39 610.14 A93.7 83.4 6 0 0 450.04 593.21" fill="none" stroke="#7c74b8" stroke-width="1.05" stroke-opacity="0.62"/>
<path d="M450.04 593.21 A93.7 83.4 6 0 0 455.14 588.51" fill="none" stroke="#b08c64" stroke-width="1.05" stroke-opacity="0.62"/>
<path d="M455.14 588.51 A93.7 83.4 6 0 0 471.38 565.25" fill="none" stroke="#a8a460" stroke-width="1.05" stroke-opacity="0.62"/>
<path d="M471.38 565.25 A93.7 83.4 6 0 0 473.39 560.43" fill="none" stroke="#70a868" stroke-width="1.05" stroke-opacity="0.62"/>
<path d="M473.39 560.43 A93.7 83.4 6 0 0 477.3 545.59" fill="none" stroke="#8c6c5c" stroke-width="1.05" stroke-opacity="0.62"/>
<path d="M477.3 545.59 A93.7 83.4 6 0 0 477.62 524.88" fill="none" stroke="#6e9a66" stroke-width="1.05" stroke-opacity="0.62"/>
<ellipse cx="384.6" cy="532.1" rx="93.7" ry="83.4" fill="none" stroke="url(#rim)" stroke-width="0.95" transform="rotate(6 384.6 532.1)"/>
<rect x="339.7" y="441.7" width="11.5" height="7.9" fill="#fff" stroke="#e87a8a" stroke-width="0.75" stroke-opacity="0.8"/>
<text class="l" x="345.4" y="448.0" text-anchor="middle">2%</text>
<rect x="438.8" y="452.2" width="14.0" height="7.9" fill="#fff" stroke="#7ba7e0" stroke-width="0.75" stroke-opacity="0.8"/>
<text class="l" x="445.8" y="458.4" text-anchor="middle">29%</text>
<rect x="482.4" y="535.5" width="11.5" height="7.9" fill="#fff" stroke="#88cc80" stroke-width="0.75" stroke-opacity="0.8"/>
<text class="l" x="488.2" y="541.8" text-anchor="middle">4%</text>
<rect x="479.1" y="554.8" width="11.5" height="7.9" fill="#fff" stroke="#b08870" stroke-width="0.75" stroke-opacity="0.8"/>
<text class="l" x="484.9" y="561.0" text-anchor="middle">3%</text>
<rect x="475.8" y="565.5" width="11.5" height="7.9" fill="#fff" stroke="#88d878" stroke-width="0.75" stroke-opacity="0.8"/>
<text class="l" x="481.6" y="571.7" text-anchor="middle">1%</text>
<rect x="466.8" y="580.6" width="11.5" height="7.9" fill="#fff" stroke="#d8d070" stroke-width="0.75" stroke-opacity="0.8"/>
<text class="l" x="472.5" y="586.8" text-anchor="middle">5%</text>
<rect x="454.9" y="593.2" width="11.5" height="7.9" fill="#fff" stroke="#e8a878" stroke-width="0.75" stroke-opacity="0.8"/>
<text class="l" x="460.7" y="599.5" text-anchor="middle">1%</text>
<rect x="405.6" y="617.7" width="14.0" height="7.9" fill="#fff" stroke="#8a80d8" stroke-width="0.75" stroke-opacity="0.8"/>
<text class="l" x="412.6" y="624.0" text-anchor="middle">17%</text>
<rect x="272.2" y="525.0" width="14.0" height="7.9" fill="#fff" stroke="#c084d8" stroke-width="0.75" stroke-opacity="0.8"/>
<text class="l" x="279.2" y="531.3" text-anchor="middle">38%</text>
</g>
<g>
<text class="s" x="640.3" y="417.2" text-anchor="middle">2022 - Sprzedaż Wartość</text>
<defs><linearGradient id="g5_1" gradientUnits="userSpaceOnUse" x1="558.12" y1="573.72" x2="721.48" y2="490.48"><stop offset="0" stop-color="#b4dcff"/><stop offset="0.4" stop-color="#b4dcff"/><stop offset="0.55" stop-color="#b0d6ff"/><stop offset="0.7" stop-color="#a9cfff"/><stop offset="0.85" stop-color="#a1c5ff"/><stop offset="1" stop-color="#98baf1"/></linearGradient><linearGradient id="g5_2" gradientUnits="userSpaceOnUse" x1="558.12" y1="573.72" x2="721.48" y2="490.48"><stop offset="0" stop-color="#ffaebc"/><stop offset="0.4" stop-color="#ffaebc"/><stop offset="0.55" stop-color="#ffaab7"/><stop offset="0.7" stop-color="#ffa4b1"/><stop offset="0.85" stop-color="#fb9ca8"/><stop offset="1" stop-color="#ed939f"/></linearGradient><linearGradient id="g5_4" gradientUnits="userSpaceOnUse" x1="558.12" y1="573.72" x2="721.48" y2="490.48"><stop offset="0" stop-color="#c8bcff"/><stop offset="0.4" stop-color="#c8bcff"/><stop offset="0.55" stop-color="#c3b7ff"/><stop offset="0.7" stop-color="#bcb1ff"/><stop offset="0.85" stop-color="#b3a8f3"/><stop offset="1" stop-color="#a99fe6"/></linearGradient><linearGradient id="g5_5" gradientUnits="userSpaceOnUse" x1="558.12" y1="573.72" x2="721.48" y2="490.48"><stop offset="0" stop-color="#ffd8a8"/><stop offset="0.4" stop-color="#ffd8a8"/><stop offset="0.55" stop-color="#ffd3a4"/><stop offset="0.7" stop-color="#ffcb9e"/><stop offset="0.85" stop-color="#ffc196"/><stop offset="1" stop-color="#f1b78e"/></linearGradient><linearGradient id="g5_7" gradientUnits="userSpaceOnUse" x1="558.12" y1="573.72" x2="721.48" y2="490.48"><stop offset="0" stop-color="#b8ffa8"/><stop offset="0.4" stop-color="#b8ffa8"/><stop offset="0.55" stop-color="#b3ffa4"/><stop offset="0.7" stop-color="#adfc9e"/><stop offset="0.85" stop-color="#a5f096"/><stop offset="1" stop-color="#9be28e"/></linearGradient><linearGradient id="g5_8" gradientUnits="userSpaceOnUse" x1="558.12" y1="573.72" x2="721.48" y2="490.48"><stop offset="0" stop-color="#acfffe"/><stop offset="0.4" stop-color="#acfffe"/><stop offset="0.55" stop-color="#a8fff8"/><stop offset="0.7" stop-color="#a2f6ef"/><stop offset="0.85" stop-color="#9aeae3"/><stop offset="1" stop-color="#91ddd7"/></linearGradient><linearGradient id="g5_10" gradientUnits="userSpaceOnUse" x1="558.12" y1="573.72" x2="721.48" y2="490.48"><stop offset="0" stop-color="#eac8b4"/><stop offset="0.4" stop-color="#eac8b4"/><stop offset="0.55" stop-color="#e4c3b0"/><stop offset="0.7" stop-color="#dcbca9"/><stop offset="0.85" stop-color="#d1b3a1"/><stop offset="1" stop-color="#c6a998"/></linearGradient></defs>
<line x1="725.4" y1="500.1" x2="736.9" y2="496.7" stroke="#e87a8a" stroke-width="0.7" stroke-opacity="0.85"/>
<line x1="720.1" y1="490.9" x2="730.8" y2="486.2" stroke="#e8a878" stroke-width="0.7" stroke-opacity="0.85"/>
<line x1="723.3" y1="496.1" x2="734.9" y2="492.0" stroke="#8a80d8" stroke-width="0.7" stroke-opacity="0.85"/>
<line x1="716.9" y1="486.4" x2="727.3" y2="481.0" stroke="#88d878" stroke-width="0.7" stroke-opacity="0.85"/>
<line x1="730.8" y1="514.4" x2="741.1" y2="513.1" stroke="#7ba7e0" stroke-width="0.7" stroke-opacity="0.85"/>
<line x1="724.9" y1="568.7" x2="734.9" y2="573.8" stroke="#b08870" stroke-width="0.7" stroke-opacity="0.85"/>
<line x1="551.7" y1="502.0" x2="539.1" y2="498.8" stroke="#78d0c0" stroke-width="0.7" stroke-opacity="0.85"/>
<path d="M732.75 524.33 A93.7 83.4 6 0 0 731.4 516.95 L729.52 525.99 A93 83 6 0 1 730.86 533.35 Z" fill="#6c8cc0" stroke="#6c8cc0" stroke-width="0.3"/>
<path d="M559.68 487.2 A93.7 83.4 6 0 0 690.5 603.38 L688.91 612.02 A93 83 6 0 1 559.09 496.44 Z" fill="#5e948c" stroke="#5e948c" stroke-width="0.3"/>
<path d="M690.5 603.38 A93.7 83.4 6 0 0 732.75 524.33 L730.86 533.35 A93 83 6 0 1 688.91 612.02 Z" fill="#8c6c5c" stroke="#8c6c5c" stroke-width="0.3"/>
<path d="M559.68 487.2 A93.7 83.4 6 1 0 731.4 516.95 L729.52 525.99 A93 83 6 1 1 559.09 496.44 Z" fill="url(#wallsh)"/>
<clipPath id="bc5"><polygon points="551.7,502.1 549.5,508.2 547.9,514.4 546.8,520.7 546.3,527.1 546.3,533.5 546.9,539.9 548.0,546.3 549.7,552.6 551.9,558.8 554.6,564.8 557.8,570.6 561.5,576.2 565.7,581.5 570.3,586.5 575.3,591.2 580.7,595.6 586.5,599.6 592.5,603.1 598.9,606.3 605.5,609.0 612.3,611.3 619.2,613.1 626.3,614.4 633.5,615.3 640.7,615.6 647.9,615.5 655.0,614.8 662.1,613.7 669.0,612.1 675.7,610.0 682.3,607.4 688.6,604.4 694.5,601.0 700.2,597.2 705.5,593.0 710.5,588.4 715.0,583.5 719.0,578.3 722.6,572.8 725.7,567.0 725.6,568.3 722.5,574.1 718.9,579.6 714.8,584.8 710.3,589.8 705.3,594.4 700.0,598.7 694.3,602.5 688.3,606.0 682.0,609.1 675.5,611.7 668.7,613.8 661.8,615.5 654.7,616.7 647.6,617.5 640.4,617.7 633.2,617.4 626.0,616.7 618.9,615.5 612.0,613.8 605.1,611.6 598.5,609.0 592.2,605.9 586.1,602.4 580.3,598.6 574.9,594.3 569.9,589.7 565.2,584.8 561.1,579.6 557.3,574.1 554.1,568.4 551.3,562.6 549.1,556.5 547.4,550.4 546.3,544.2 545.7,537.9 545.7,531.6 546.2,525.3 547.3,519.0 548.9,512.8 551.1,506.7"/></clipPath>
<g clip-path="url(#bc5)"><g transform="translate(-0.7,5.2)" opacity="0.5">
<path d="M641.1 525.35 L732.75 524.33 A93.7 83.4 6 0 0 726.76 503.1 Z" fill="url(#g5_1)" stroke="url(#g5_1)" stroke-width="0.35"/>
<path d="M641.1 525.35 L726.76 503.1 A93.7 83.4 6 0 0 725.07 499.52 Z" fill="url(#g5_2)" stroke="url(#g5_2)" stroke-width="0.35"/>
<path d="M641.1 525.35 L725.07 499.52 A93.7 83.4 6 0 0 723.4 496.37 Z" fill="url(#g5_4)" stroke="url(#g5_4)" stroke-width="0.35"/>
<path d="M641.1 525.35 L723.4 496.37 A93.7 83.4 6 0 0 718.23 488.23 Z" fill="url(#g5_5)" stroke="url(#g5_5)" stroke-width="0.35"/>
<path d="M641.1 525.35 L718.23 488.23 A93.7 83.4 6 0 0 717.06 486.64 Z" fill="url(#g5_7)" stroke="url(#g5_7)" stroke-width="0.35"/>
<path d="M641.1 525.35 L717.06 486.64 A93.7 83.4 6 1 0 690.5 603.38 Z" fill="url(#g5_8)" stroke="url(#g5_8)" stroke-width="0.35"/>
<path d="M641.1 525.35 L690.5 603.38 A93.7 83.4 6 0 0 732.75 524.33 Z" fill="url(#g5_10)" stroke="url(#g5_10)" stroke-width="0.35"/>
</g></g>
<path d="M641.1 525.35 L732.75 524.33 A93.7 83.4 6 0 0 726.76 503.1 Z" fill="url(#g5_1)" stroke="url(#g5_1)" stroke-width="0.35"/>
<path d="M641.1 525.35 L726.76 503.1 A93.7 83.4 6 0 0 725.07 499.52 Z" fill="url(#g5_2)" stroke="url(#g5_2)" stroke-width="0.35"/>
<path d="M641.1 525.35 L725.07 499.52 A93.7 83.4 6 0 0 723.4 496.37 Z" fill="url(#g5_4)" stroke="url(#g5_4)" stroke-width="0.35"/>
<path d="M641.1 525.35 L723.4 496.37 A93.7 83.4 6 0 0 718.23 488.23 Z" fill="url(#g5_5)" stroke="url(#g5_5)" stroke-width="0.35"/>
<path d="M641.1 525.35 L718.23 488.23 A93.7 83.4 6 0 0 717.06 486.64 Z" fill="url(#g5_7)" stroke="url(#g5_7)" stroke-width="0.35"/>
<path d="M641.1 525.35 L717.06 486.64 A93.7 83.4 6 1 0 690.5 603.38 Z" fill="url(#g5_8)" stroke="url(#g5_8)" stroke-width="0.35"/>
<path d="M641.1 525.35 L690.5 603.38 A93.7 83.4 6 0 0 732.75 524.33 Z" fill="url(#g5_10)" stroke="url(#g5_10)" stroke-width="0.35"/>
<ellipse cx="639.8" cy="532.1" rx="93.7" ry="83.4" fill="url(#sh)" transform="rotate(6 639.8 532.1)"/>
<path d="M732.75 524.33 A93.7 83.4 6 0 0 726.76 503.1" fill="none" stroke="#6c8cc0" stroke-width="1.05" stroke-opacity="0.62"/>
<path d="M726.76 503.1 A93.7 83.4 6 0 0 725.07 499.52" fill="none" stroke="#bd7a84" stroke-width="1.05" stroke-opacity="0.62"/>
<path d="M725.07 499.52 A93.7 83.4 6 0 0 723.4 496.37" fill="none" stroke="#7c74b8" stroke-width="1.05" stroke-opacity="0.62"/>
<path d="M723.4 496.37 A93.7 83.4 6 0 0 718.23 488.23" fill="none" stroke="#b08c64" stroke-width="1.05" stroke-opacity="0.62"/>
<path d="M718.23 488.23 A93.7 83.4 6 0 0 717.06 486.64" fill="none" stroke="#70a868" stroke-width="1.05" stroke-opacity="0.62"/>
<path d="M717.06 486.64 A93.7 83.4 6 1 0 690.5 603.38" fill="none" stroke="#5e948c" stroke-width="1.05" stroke-opacity="0.62"/>
<path d="M690.5 603.38 A93.7 83.4 6 0 0 732.75 524.33" fill="none" stroke="#8c6c5c" stroke-width="1.05" stroke-opacity="0.62"/>
<ellipse cx="639.8" cy="532.1" rx="93.7" ry="83.4" fill="none" stroke="url(#rim)" stroke-width="0.95" transform="rotate(6 639.8 532.1)"/>
<rect x="731.2" y="492.7" width="11.5" height="7.9" fill="#fff" stroke="#e87a8a" stroke-width="0.75" stroke-opacity="0.8"/>
<text class="l" x="736.9" y="499.0" text-anchor="middle">1%</text>
<rect x="725.0" y="482.3" width="11.5" height="7.9" fill="#fff" stroke="#e8a878" stroke-width="0.75" stroke-opacity="0.8"/>
<text class="l" x="730.8" y="488.5" text-anchor="middle">2%</text>
<rect x="729.1" y="488.1" width="11.5" height="7.9" fill="#fff" stroke="#8a80d8" stroke-width="0.75" stroke-opacity="0.8"/>
<text class="l" x="734.9" y="494.3" text-anchor="middle">1%</text>
<rect x="721.6" y="477.1" width="11.5" height="7.9" fill="#fff" stroke="#88d878" stroke-width="0.75" stroke-opacity="0.8"/>
<text class="l" x="727.3" y="483.3" text-anchor="middle">0%</text>
<rect x="735.4" y="509.2" width="11.5" height="7.9" fill="#fff" stroke="#7ba7e0" stroke-width="0.75" stroke-opacity="0.8"/>
<text class="l" x="741.1" y="515.4" text-anchor="middle">4%</text>
<rect x="727.9" y="569.9" width="14.0" height="7.9" fill="#fff" stroke="#b08870" stroke-width="0.75" stroke-opacity="0.8"/>
<text class="l" x="734.9" y="576.1" text-anchor="middle">17%</text>
<rect x="532.1" y="494.8" width="14.0" height="7.9" fill="#fff" stroke="#78d0c0" stroke-width="0.75" stroke-opacity="0.8"/>
<text class="l" x="539.1" y="501.1" text-anchor="middle">75%</text>
</g>
<rect x="770.5" y="351.5" width="22" height="112.5" fill="url(#leg)" stroke="#a8a8a8" stroke-width="0.8"/>
<path d="M773.00 360.50 L781.80 360.50 A8.5 6.6 0 0 0 773.00 353.90 Z" fill="#7ba7e0"/>
<text class="g" x="784.1" y="359.5">1</text>
<path d="M773.00 369.75 L781.80 369.75 A8.5 6.6 0 0 0 773.00 363.15 Z" fill="#e87a8a"/>
<text class="g" x="784.1" y="368.8">2</text>
<path d="M773.00 379.00 L781.80 379.00 A8.5 6.6 0 0 0 773.00 372.40 Z" fill="#c084d8"/>
<text class="g" x="784.1" y="378.0">3</text>
<path d="M773.00 388.25 L781.80 388.25 A8.5 6.6 0 0 0 773.00 381.65 Z" fill="#8a80d8"/>
<text class="g" x="784.1" y="387.2">4</text>
<path d="M773.00 397.50 L781.80 397.50 A8.5 6.6 0 0 0 773.00 390.90 Z" fill="#e8a878"/>
<text class="g" x="784.1" y="396.5">5</text>
<path d="M773.00 406.75 L781.80 406.75 A8.5 6.6 0 0 0 773.00 400.15 Z" fill="#d8d070"/>
<text class="g" x="784.1" y="405.8">6</text>
<path d="M773.00 416.00 L781.80 416.00 A8.5 6.6 0 0 0 773.00 409.40 Z" fill="#88d878"/>
<text class="g" x="784.1" y="415.0">7</text>
<path d="M773.00 425.25 L781.80 425.25 A8.5 6.6 0 0 0 773.00 418.65 Z" fill="#78d0c0"/>
<text class="g" x="784.1" y="424.2">8</text>
<path d="M773.00 434.50 L781.80 434.50 A8.5 6.6 0 0 0 773.00 427.90 Z" fill="#80b0d0"/>
<text class="g" x="784.1" y="433.5">9</text>
<path d="M773.00 443.75 L781.80 443.75 A8.5 6.6 0 0 0 773.00 437.15 Z" fill="#b08870"/>
<text class="g" x="784.1" y="442.8">10</text>
<path d="M773.00 453.00 L781.80 453.00 A8.5 6.6 0 0 0 773.00 446.40 Z" fill="#e07080"/>
<text class="g" x="784.1" y="452.0">11</text>
<path d="M773.00 462.25 L781.80 462.25 A8.5 6.6 0 0 0 773.00 455.65 Z" fill="#88cc80"/>
<text class="g" x="784.1" y="461.2">12</text>
</svg></body></html>
